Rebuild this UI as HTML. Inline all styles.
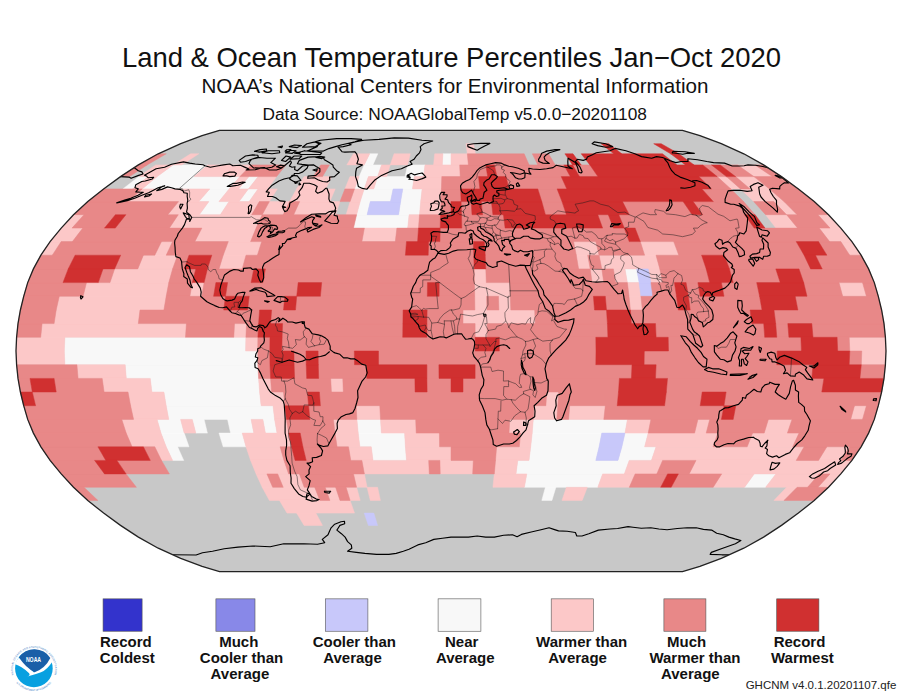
<!DOCTYPE html>
<html><head><meta charset="utf-8"><title>Land &amp; Ocean Temperature Percentiles Jan-Oct 2020</title>
<style>
html,body{margin:0;padding:0;background:#fff}
body{width:900px;height:696px;position:relative;overflow:hidden;font-family:"Liberation Sans",Arial,Helvetica,sans-serif;color:#111}
#ttl{position:absolute;left:0;top:0}
#ttl text{font-family:"Liberation Sans",Arial,Helvetica,sans-serif;fill:#111;text-anchor:middle}
</style></head><body>
<svg id="ttl" width="900" height="128" viewBox="0 0 900 128">
<text x="451.5" y="67.0" font-size="27.45">Land &amp; Ocean Temperature Percentiles Jan&#8722;Oct 2020</text>
<text x="455" y="93.0" font-size="20.64">NOAA&#8217;s National Centers for Environmental Information</text>
<text x="454.75" y="120.3" font-size="17.3">Data Source: NOAAGlobalTemp v5.0.0&#8722;20201108</text>
</svg>
<svg width="900" height="696" viewBox="0 0 900 696" style="position:absolute;left:0;top:0">
<defs><clipPath id="gl"><path d="M219.5,130.3L202.1,135.6L180.7,143.7L158.2,153.8L138.4,164.9L120.5,176.6L103.6,188.9L87.8,201.6L73.5,214.7L61.2,228.1L50.1,241.6L40.9,255.2L33.4,268.9L27.7,282.6L23.7,296.3L20.4,310.0L18.0,323.6L16.6,337.3L16.0,351.0L16.6,364.7L18.0,378.4L20.4,392.0L23.7,405.7L27.7,419.4L33.4,433.1L40.9,446.8L50.1,460.4L61.2,473.9L73.5,487.3L87.8,500.4L103.6,513.1L120.5,525.4L138.4,537.1L158.2,548.2L180.7,558.3L202.1,566.4L219.5,571.6L682.5,571.6L699.9,566.4L721.3,558.3L743.8,548.2L763.6,537.1L781.5,525.4L798.4,513.1L814.2,500.4L828.5,487.3L840.8,473.9L851.9,460.4L861.1,446.8L868.6,433.1L874.3,419.4L878.3,405.7L881.6,392.0L884.0,378.4L885.4,364.7L886.0,351.0L885.4,337.3L884.0,323.6L881.6,310.0L878.3,296.3L874.3,282.6L868.6,268.9L861.1,255.2L851.9,241.6L840.8,228.1L828.5,214.7L814.2,201.6L798.4,188.9L781.5,176.6L763.6,164.9L743.8,153.8L721.3,143.7L699.9,135.6L682.5,130.3Z"/></clipPath></defs>
<path d="M219.5,130.3L202.1,135.6L180.7,143.7L158.2,153.8L138.4,164.9L120.5,176.6L103.6,188.9L87.8,201.6L73.5,214.7L61.2,228.1L50.1,241.6L40.9,255.2L33.4,268.9L27.7,282.6L23.7,296.3L20.4,310.0L18.0,323.6L16.6,337.3L16.0,351.0L16.6,364.7L18.0,378.4L20.4,392.0L23.7,405.7L27.7,419.4L33.4,433.1L40.9,446.8L50.1,460.4L61.2,473.9L73.5,487.3L87.8,500.4L103.6,513.1L120.5,525.4L138.4,537.1L158.2,548.2L180.7,558.3L202.1,566.4L219.5,571.6L682.5,571.6L699.9,566.4L721.3,558.3L743.8,548.2L763.6,537.1L781.5,525.4L798.4,513.1L814.2,500.4L828.5,487.3L840.8,473.9L851.9,460.4L861.1,446.8L868.6,433.1L874.3,419.4L878.3,405.7L881.6,392.0L884.0,378.4L885.4,364.7L886.0,351.0L885.4,337.3L884.0,323.6L881.6,310.0L878.3,296.3L874.3,282.6L868.6,268.9L861.1,255.2L851.9,241.6L840.8,228.1L828.5,214.7L814.2,201.6L798.4,188.9L781.5,176.6L763.6,164.9L743.8,153.8L721.3,143.7L699.9,135.6L682.5,130.3Z" fill="#c8c8c8"/>
<g stroke-width="0.5" stroke-linejoin="miter">
<path fill="#f8f8f8" stroke="#f8f8f8" d="M369.7,153.8L377.8,153.8L372.9,164.9L364.2,164.9ZM442.9,153.8L451.0,153.8L451.0,164.9L442.3,164.9ZM173.1,164.9L207.9,164.9L194.0,176.6L157.2,176.6ZM364.2,164.9L381.5,164.9L377.6,176.6L359.2,176.6ZM407.6,164.9L425.0,164.9L423.5,176.6L405.1,176.6ZM138.9,176.6L148.1,176.6L132.6,188.9L122.9,188.9ZM157.2,176.6L239.9,176.6L229.1,188.9L142.2,188.9ZM249.0,176.6L258.2,176.6L248.4,188.9L238.7,188.9ZM359.2,176.6L368.4,176.6L364.2,188.9L354.5,188.9ZM377.6,176.6L414.3,176.6L412.4,188.9L373.8,188.9ZM209.8,188.9L229.1,188.9L218.9,201.6L198.8,201.6ZM248.4,188.9L258.0,188.9L249.2,201.6L239.1,201.6ZM364.2,188.9L393.1,188.9L390.5,201.6L360.2,201.6ZM402.8,188.9L422.1,188.9L420.7,201.6L400.6,201.6ZM208.9,201.6L229.0,201.6L220.3,214.7L199.3,214.7ZM360.2,201.6L370.3,201.6L367.1,214.7L356.6,214.7ZM400.6,201.6L420.7,201.6L419.5,214.7L398.6,214.7ZM356.6,214.7L409.1,214.7L407.7,228.1L353.5,228.1ZM625.0,268.9L636.6,268.9L639.1,282.6L627.4,282.6ZM64.9,337.3L245.9,337.3L245.6,351.0L64.3,351.0ZM64.3,351.0L257.7,351.0L257.9,364.7L64.9,364.7ZM125.2,364.7L257.9,364.7L258.6,378.4L126.3,378.4ZM150.3,378.4L258.6,378.4L259.6,392.0L151.9,392.0ZM163.9,392.0L259.6,392.0L261.1,405.7L166.2,405.7ZM166.2,405.7L273.0,405.7L274.6,419.4L168.8,419.4ZM157.1,419.4L180.6,419.4L184.2,433.1L161.0,433.1ZM192.3,419.4L204.1,419.4L207.4,433.1L195.8,433.1ZM227.6,419.4L251.1,419.4L253.8,433.1L230.6,433.1ZM262.9,419.4L274.6,419.4L277.0,433.1L265.4,433.1ZM356.9,419.4L380.5,419.4L381.4,433.1L358.2,433.1ZM533.3,419.4L627.4,419.4L625.0,433.1L532.2,433.1ZM161.0,433.1L184.2,433.1L189.0,446.8L166.2,446.8ZM219.0,433.1L242.2,433.1L246.0,446.8L223.2,446.8ZM358.2,433.1L404.6,433.1L405.4,446.8L359.9,446.8ZM532.2,433.1L601.8,433.1L599.1,446.8L530.7,446.8ZM625.0,433.1L648.2,433.1L644.6,446.8L621.9,446.8ZM166.2,446.8L177.6,446.8L183.7,460.4L172.6,460.4ZM371.3,446.8L405.4,446.8L406.5,460.4L373.0,460.4ZM530.7,446.8L599.1,446.8L595.8,460.4L529.0,460.4ZM621.9,446.8L656.0,446.8L651.4,460.4L618.0,460.4ZM517.8,460.4L629.2,460.4L624.3,473.9L516.0,473.9ZM526.8,473.9L602.6,473.9L597.8,487.3L524.4,487.3ZM754.2,473.9L775.9,473.9L765.6,487.3L744.6,487.3ZM545.4,487.3L555.9,487.3L551.9,500.4L541.8,500.4Z"/>
<path fill="#fcc8c8" stroke="#fcc8c8" d="M466.0,143.7L473.5,143.7L475.4,153.8L467.3,153.8ZM190.7,153.8L198.8,153.8L181.8,164.9L173.1,164.9ZM353.4,153.8L369.7,153.8L364.2,164.9L346.8,164.9ZM394.1,153.8L410.3,153.8L407.6,164.9L390.2,164.9ZM434.7,153.8L442.9,153.8L442.3,164.9L433.6,164.9ZM451.0,153.8L467.3,153.8L468.4,164.9L451.0,164.9ZM155.8,164.9L173.1,164.9L157.2,176.6L138.9,176.6ZM207.9,164.9L251.3,164.9L239.9,176.6L194.0,176.6ZM381.5,164.9L390.2,164.9L386.7,176.6L377.6,176.6ZM425.0,164.9L459.7,164.9L460.2,176.6L423.5,176.6ZM737.5,164.9L754.9,164.9L772.3,176.6L753.9,176.6ZM148.1,176.6L157.2,176.6L142.2,188.9L132.6,188.9ZM239.9,176.6L249.0,176.6L238.7,188.9L229.1,188.9ZM258.2,176.6L276.6,176.6L267.7,188.9L248.4,188.9ZM304.1,176.6L331.7,176.6L325.6,188.9L296.6,188.9ZM350.0,176.6L359.2,176.6L354.5,188.9L344.9,188.9ZM368.4,176.6L377.6,176.6L373.8,188.9L364.2,188.9ZM414.3,176.6L441.8,176.6L441.4,188.9L412.4,188.9ZM717.2,176.6L726.4,176.6L740.5,188.9L730.8,188.9ZM735.6,176.6L753.9,176.6L769.4,188.9L750.1,188.9ZM142.2,188.9L209.8,188.9L198.8,201.6L128.1,201.6ZM229.1,188.9L248.4,188.9L239.1,201.6L218.9,201.6ZM258.0,188.9L277.3,188.9L269.4,201.6L249.2,201.6ZM296.6,188.9L335.2,188.9L329.9,201.6L289.6,201.6ZM354.5,188.9L364.2,188.9L360.2,201.6L350.1,201.6ZM422.1,188.9L441.4,188.9L440.9,201.6L420.7,201.6ZM740.5,188.9L769.4,188.9L784.0,201.6L753.7,201.6ZM178.6,201.6L208.9,201.6L199.3,214.7L167.8,214.7ZM229.0,201.6L259.3,201.6L251.7,214.7L220.3,214.7ZM269.4,201.6L289.6,201.6L283.2,214.7L262.2,214.7ZM299.7,201.6L340.0,201.6L335.6,214.7L293.7,214.7ZM350.1,201.6L360.2,201.6L356.6,214.7L346.1,214.7ZM420.7,201.6L440.9,201.6L440.5,214.7L419.5,214.7ZM773.9,201.6L784.0,201.6L797.1,214.7L786.6,214.7ZM73.5,214.7L84.0,214.7L72.0,228.1L61.2,228.1ZM178.3,214.7L262.2,214.7L256.1,228.1L169.4,228.1ZM409.1,214.7L419.5,214.7L418.5,228.1L407.7,228.1ZM765.6,214.7L786.6,214.7L797.5,228.1L775.9,228.1ZM818.0,214.7L828.5,214.7L840.8,228.1L830.0,228.1ZM61.2,228.1L82.8,228.1L72.4,241.6L50.1,241.6ZM201.9,228.1L256.1,228.1L250.6,241.6L194.9,241.6ZM364.4,228.1L396.9,228.1L395.3,241.6L361.9,241.6ZM819.2,228.1L840.8,228.1L851.9,241.6L829.6,241.6ZM50.1,241.6L61.2,241.6L52.3,255.2L40.9,255.2ZM161.5,241.6L172.6,241.6L166.2,255.2L154.8,255.2ZM228.3,241.6L261.7,241.6L257.4,255.2L223.2,255.2ZM573.5,241.6L595.8,241.6L599.1,255.2L576.3,255.2ZM640.3,241.6L673.7,241.6L678.8,255.2L644.6,255.2ZM840.8,241.6L851.9,241.6L861.1,255.2L849.7,255.2ZM143.4,255.2L177.6,255.2L172.6,268.9L137.8,268.9ZM223.2,255.2L246.0,255.2L242.2,268.9L219.0,268.9ZM576.3,255.2L587.7,255.2L590.2,268.9L578.6,268.9ZM599.1,255.2L656.0,255.2L659.8,268.9L601.8,268.9ZM114.6,268.9L172.6,268.9L168.8,282.6L110.0,282.6ZM474.2,268.9L485.8,268.9L486.3,282.6L474.5,282.6ZM590.2,268.9L601.8,268.9L603.8,282.6L592.1,282.6ZM613.4,268.9L625.0,268.9L627.4,282.6L615.6,282.6ZM648.2,268.9L659.8,268.9L662.6,282.6L650.9,282.6ZM86.5,282.6L168.8,282.6L166.2,296.3L83.1,296.3ZM192.3,282.6L204.1,282.6L201.8,296.3L189.9,296.3ZM474.5,282.6L509.8,282.6L510.3,296.3L474.7,296.3ZM627.4,282.6L639.1,282.6L640.9,296.3L629.0,296.3ZM839.0,282.6L862.5,282.6L866.4,296.3L842.7,296.3ZM59.3,296.3L166.2,296.3L163.9,310.0L56.2,310.0ZM474.7,296.3L486.6,296.3L486.9,310.0L474.9,310.0ZM498.5,296.3L510.3,296.3L510.8,310.0L498.9,310.0ZM629.0,296.3L640.9,296.3L642.4,310.0L630.4,310.0ZM56.2,310.0L140.0,310.0L138.3,323.6L54.1,323.6ZM463.0,310.0L534.7,310.0L535.2,323.6L463.0,323.6ZM42.1,323.6L186.4,323.6L185.5,337.3L40.7,337.3ZM234.5,323.6L246.5,323.6L245.9,337.3L233.8,337.3ZM475.1,323.6L487.1,323.6L487.2,337.3L475.1,337.3ZM16.6,337.3L64.9,337.3L64.3,351.0L16.0,351.0ZM245.9,337.3L257.9,337.3L257.7,351.0L245.6,351.0ZM849.2,337.3L885.4,337.3L886.0,351.0L849.8,351.0ZM16.0,351.0L64.3,351.0L64.9,364.7L16.6,364.7ZM861.8,351.0L886.0,351.0L885.4,364.7L861.3,364.7ZM76.9,364.7L125.2,364.7L126.3,378.4L78.1,378.4ZM102.2,378.4L150.3,378.4L151.9,392.0L104.1,392.0ZM258.6,378.4L270.6,378.4L271.6,392.0L259.6,392.0ZM330.7,378.4L342.8,378.4L343.3,392.0L331.4,392.0ZM128.0,392.0L163.9,392.0L166.2,405.7L130.6,405.7ZM259.6,392.0L283.5,392.0L284.8,405.7L261.1,405.7ZM546.7,392.0L558.7,392.0L557.8,405.7L545.9,405.7ZM130.6,405.7L166.2,405.7L168.8,419.4L133.6,419.4ZM273.0,405.7L284.8,405.7L286.4,419.4L274.6,419.4ZM356.1,405.7L379.8,405.7L380.5,419.4L356.9,419.4ZM534.1,405.7L557.8,405.7L556.8,419.4L533.3,419.4ZM569.7,405.7L605.3,405.7L603.8,419.4L568.6,419.4ZM854.5,405.7L866.4,405.7L862.5,419.4L850.7,419.4ZM121.8,419.4L157.1,419.4L161.0,433.1L126.2,433.1ZM180.6,419.4L192.3,419.4L195.8,433.1L184.2,433.1ZM251.1,419.4L262.9,419.4L265.4,433.1L253.8,433.1ZM274.6,419.4L286.4,419.4L288.6,433.1L277.0,433.1ZM333.4,419.4L356.9,419.4L358.2,433.1L335.0,433.1ZM380.5,419.4L415.7,419.4L416.2,433.1L381.4,433.1ZM509.8,419.4L533.3,419.4L532.2,433.1L509.0,433.1ZM627.4,419.4L650.9,419.4L648.2,433.1L625.0,433.1ZM697.9,419.4L709.7,419.4L706.2,433.1L694.6,433.1ZM768.4,419.4L792.0,419.4L787.4,433.1L764.2,433.1ZM126.2,433.1L161.0,433.1L166.2,446.8L132.1,446.8ZM242.2,433.1L288.6,433.1L291.5,446.8L246.0,446.8ZM335.0,433.1L358.2,433.1L359.9,446.8L337.1,446.8ZM404.6,433.1L439.4,433.1L439.6,446.8L405.4,446.8ZM520.6,433.1L532.2,433.1L530.7,446.8L519.3,446.8ZM648.2,433.1L717.8,433.1L713.0,446.8L644.6,446.8ZM752.6,433.1L799.0,433.1L792.7,446.8L747.2,446.8ZM154.8,446.8L166.2,446.8L172.6,460.4L161.5,460.4ZM246.0,446.8L280.1,446.8L284.0,460.4L250.6,460.4ZM348.5,446.8L371.3,446.8L373.0,460.4L350.8,460.4ZM405.4,446.8L451.0,446.8L451.0,460.4L406.5,460.4ZM496.6,446.8L530.7,446.8L529.0,460.4L495.5,460.4ZM656.0,446.8L804.1,446.8L796.2,460.4L651.4,460.4ZM826.9,446.8L849.7,446.8L840.8,460.4L818.5,460.4ZM250.6,460.4L284.0,460.4L288.6,473.9L256.1,473.9ZM361.9,460.4L428.7,460.4L429.3,473.9L364.4,473.9ZM439.9,460.4L473.3,460.4L472.7,473.9L440.2,473.9ZM495.5,460.4L517.8,460.4L516.0,473.9L494.3,473.9ZM629.2,460.4L662.6,460.4L656.8,473.9L624.3,473.9ZM696.0,460.4L851.9,460.4L840.8,473.9L689.2,473.9ZM256.1,473.9L266.9,473.9L272.7,487.3L262.2,487.3ZM277.7,473.9L299.4,473.9L304.2,487.3L283.2,487.3ZM353.5,473.9L364.4,473.9L367.1,487.3L356.6,487.3ZM494.3,473.9L526.8,473.9L524.4,487.3L492.9,487.3ZM602.6,473.9L635.1,473.9L629.3,487.3L597.8,487.3ZM721.7,473.9L754.2,473.9L744.6,487.3L713.2,487.3ZM775.9,473.9L819.2,473.9L807.6,487.3L765.6,487.3ZM830.0,473.9L840.8,473.9L828.5,487.3L818.0,487.3ZM262.2,487.3L314.7,487.3L319.8,500.4L269.4,500.4ZM325.2,487.3L335.6,487.3L340.0,500.4L329.9,500.4ZM346.1,487.3L356.6,487.3L360.2,500.4L350.1,500.4ZM367.1,487.3L377.6,487.3L380.4,500.4L370.3,500.4ZM566.4,487.3L587.3,487.3L582.2,500.4L562.0,500.4ZM786.6,487.3L797.1,487.3L784.0,500.4L773.9,500.4ZM279.5,500.4L350.1,500.4L354.5,513.1L287.0,513.1ZM296.6,513.1L315.9,513.1L322.5,525.4L304.1,525.4Z"/>
<path fill="#c8c8fa" stroke="#c8c8fa" d="M393.1,188.9L402.8,188.9L400.6,201.6L390.5,201.6ZM370.3,201.6L400.6,201.6L398.6,214.7L367.1,214.7ZM636.6,268.9L648.2,268.9L650.9,282.6L639.1,282.6ZM639.1,282.6L650.9,282.6L652.8,296.3L640.9,296.3ZM601.8,433.1L625.0,433.1L621.9,446.8L599.1,446.8ZM599.1,446.8L621.9,446.8L618.0,460.4L595.8,460.4ZM364.2,513.1L373.8,513.1L377.6,525.4L368.4,525.4Z"/>
<path fill="#e88888" stroke="#e88888" d="M158.2,153.8L166.3,153.8L147.1,164.9L138.4,164.9ZM467.3,153.8L524.2,153.8L529.1,164.9L468.4,164.9ZM532.3,153.8L548.6,153.8L555.2,164.9L537.8,164.9ZM138.4,164.9L147.1,164.9L129.7,176.6L120.5,176.6ZM251.3,164.9L286.0,164.9L276.6,176.6L239.9,176.6ZM320.8,164.9L329.4,164.9L322.5,176.6L313.3,176.6ZM459.7,164.9L485.7,164.9L487.7,176.6L460.2,176.6ZM494.4,164.9L563.9,164.9L570.3,176.6L496.9,176.6ZM572.6,164.9L589.9,164.9L597.9,176.6L579.5,176.6ZM702.8,164.9L711.5,164.9L726.4,176.6L717.2,176.6ZM720.2,164.9L737.5,164.9L753.9,176.6L735.6,176.6ZM754.9,164.9L763.6,164.9L781.5,176.6L772.3,176.6ZM441.8,176.6L478.5,176.6L479.9,188.9L441.4,188.9ZM506.1,176.6L561.2,176.6L566.8,188.9L508.9,188.9ZM698.9,176.6L717.2,176.6L730.8,188.9L711.5,188.9ZM726.4,176.6L735.6,176.6L750.1,188.9L740.5,188.9ZM753.9,176.6L781.5,176.6L798.4,188.9L769.4,188.9ZM103.6,188.9L142.2,188.9L128.1,201.6L87.8,201.6ZM344.9,188.9L354.5,188.9L350.1,201.6L340.0,201.6ZM441.4,188.9L460.6,188.9L461.1,201.6L440.9,201.6ZM537.8,188.9L557.1,188.9L562.0,201.6L541.8,201.6ZM701.9,188.9L730.8,188.9L743.6,201.6L713.3,201.6ZM769.4,188.9L798.4,188.9L814.2,201.6L784.0,201.6ZM87.8,201.6L178.6,201.6L167.8,214.7L73.5,214.7ZM259.3,201.6L269.4,201.6L262.2,214.7L251.7,214.7ZM289.6,201.6L299.7,201.6L293.7,214.7L283.2,214.7ZM440.9,201.6L451.0,201.6L451.0,214.7L440.5,214.7ZM461.1,201.6L471.2,201.6L472.0,214.7L461.5,214.7ZM481.3,201.6L491.4,201.6L492.9,214.7L482.5,214.7ZM541.8,201.6L562.0,201.6L566.4,214.7L545.4,214.7ZM622.5,201.6L683.1,201.6L692.2,214.7L629.3,214.7ZM693.1,201.6L743.6,201.6L755.1,214.7L702.7,214.7ZM753.7,201.6L773.9,201.6L786.6,214.7L765.6,214.7ZM784.0,201.6L814.2,201.6L828.5,214.7L797.1,214.7ZM84.0,214.7L115.4,214.7L104.5,228.1L72.0,228.1ZM125.9,214.7L178.3,214.7L169.4,228.1L115.3,228.1ZM262.2,214.7L356.6,214.7L353.5,228.1L256.1,228.1ZM419.5,214.7L440.5,214.7L440.2,228.1L418.5,228.1ZM461.5,214.7L503.4,214.7L505.1,228.1L461.8,228.1ZM597.8,214.7L608.3,214.7L613.4,228.1L602.6,228.1ZM618.8,214.7L744.6,214.7L754.2,228.1L624.3,228.1ZM786.6,214.7L818.0,214.7L830.0,228.1L797.5,228.1ZM82.8,228.1L201.9,228.1L194.9,241.6L72.4,241.6ZM256.1,228.1L364.4,228.1L361.9,241.6L250.6,241.6ZM396.9,228.1L418.5,228.1L417.6,241.6L395.3,241.6ZM440.2,228.1L624.3,228.1L629.2,241.6L439.9,241.6ZM635.1,228.1L819.2,228.1L829.6,241.6L640.3,241.6ZM61.2,241.6L161.5,241.6L154.8,255.2L52.3,255.2ZM172.6,241.6L228.3,241.6L223.2,255.2L166.2,255.2ZM261.7,241.6L406.5,241.6L405.4,255.2L257.4,255.2ZM428.7,241.6L473.3,241.6L473.8,255.2L428.2,255.2ZM484.4,241.6L573.5,241.6L576.3,255.2L485.2,255.2ZM595.8,241.6L640.3,241.6L644.6,255.2L599.1,255.2ZM673.7,241.6L796.2,241.6L804.1,255.2L678.8,255.2ZM818.5,241.6L840.8,241.6L849.7,255.2L826.9,255.2ZM40.9,255.2L75.1,255.2L68.2,268.9L33.4,268.9ZM120.7,255.2L143.4,255.2L137.8,268.9L114.6,268.9ZM177.6,255.2L189.0,255.2L184.2,268.9L172.6,268.9ZM211.8,255.2L223.2,255.2L219.0,268.9L207.4,268.9ZM246.0,255.2L473.8,255.2L474.2,268.9L242.2,268.9ZM485.2,255.2L576.3,255.2L578.6,268.9L485.8,268.9ZM587.7,255.2L599.1,255.2L601.8,268.9L590.2,268.9ZM656.0,255.2L701.6,255.2L706.2,268.9L659.8,268.9ZM724.4,255.2L804.1,255.2L810.6,268.9L729.4,268.9ZM815.5,255.2L861.1,255.2L868.6,268.9L822.2,268.9ZM33.4,268.9L68.2,268.9L63.0,282.6L27.7,282.6ZM103.0,268.9L114.6,268.9L110.0,282.6L98.3,282.6ZM172.6,268.9L195.8,268.9L192.3,282.6L168.8,282.6ZM207.4,268.9L253.8,268.9L251.1,282.6L204.1,282.6ZM265.4,268.9L474.2,268.9L474.5,282.6L262.9,282.6ZM485.8,268.9L590.2,268.9L592.1,282.6L486.3,282.6ZM601.8,268.9L613.4,268.9L615.6,282.6L603.8,282.6ZM659.8,268.9L706.2,268.9L709.7,282.6L662.6,282.6ZM729.4,268.9L775.8,268.9L780.2,282.6L733.2,282.6ZM799.0,268.9L868.6,268.9L874.3,282.6L803.7,282.6ZM27.7,282.6L86.5,282.6L83.1,296.3L23.7,296.3ZM168.8,282.6L192.3,282.6L189.9,296.3L166.2,296.3ZM204.1,282.6L215.9,282.6L213.6,296.3L201.8,296.3ZM227.6,282.6L298.2,282.6L296.7,296.3L225.5,296.3ZM321.7,282.6L427.5,282.6L427.3,296.3L320.4,296.3ZM439.2,282.6L474.5,282.6L474.7,296.3L439.1,296.3ZM509.8,282.6L627.4,282.6L629.0,296.3L510.3,296.3ZM650.9,282.6L674.4,282.6L676.5,296.3L652.8,296.3ZM686.1,282.6L697.9,282.6L700.2,296.3L688.4,296.3ZM721.4,282.6L756.7,282.6L759.6,296.3L724.0,296.3ZM803.7,282.6L839.0,282.6L842.7,296.3L807.0,296.3ZM862.5,282.6L874.3,282.6L878.3,296.3L866.4,296.3ZM23.7,296.3L59.3,296.3L56.2,310.0L20.4,310.0ZM166.2,296.3L225.5,296.3L223.7,310.0L163.9,310.0ZM249.2,296.3L284.8,296.3L283.5,310.0L247.6,310.0ZM296.7,296.3L474.7,296.3L474.9,310.0L295.5,310.0ZM486.6,296.3L498.5,296.3L498.9,310.0L486.9,310.0ZM510.3,296.3L593.4,296.3L594.5,310.0L510.8,310.0ZM605.3,296.3L629.0,296.3L630.4,310.0L606.5,310.0ZM640.9,296.3L676.5,296.3L678.3,310.0L642.4,310.0ZM688.4,296.3L759.6,296.3L762.0,310.0L690.2,310.0ZM795.2,296.3L878.3,296.3L881.6,310.0L797.9,310.0ZM20.4,310.0L56.2,310.0L54.1,323.6L18.0,323.6ZM140.0,310.0L259.6,310.0L258.6,323.6L138.3,323.6ZM271.6,310.0L403.1,310.0L402.9,323.6L270.6,323.6ZM427.1,310.0L463.0,310.0L463.0,323.6L426.9,323.6ZM534.7,310.0L606.5,310.0L607.4,323.6L535.2,323.6ZM630.4,310.0L750.1,310.0L751.7,323.6L631.4,323.6ZM774.0,310.0L881.6,310.0L884.0,323.6L775.7,323.6ZM18.0,323.6L42.1,323.6L40.7,337.3L16.6,337.3ZM186.4,323.6L234.5,323.6L233.8,337.3L185.5,337.3ZM246.5,323.6L258.6,323.6L257.9,337.3L245.9,337.3ZM282.6,323.6L402.9,323.6L402.7,337.3L282.1,337.3ZM426.9,323.6L475.1,323.6L475.1,337.3L426.9,337.3ZM487.1,323.6L607.4,323.6L607.9,337.3L487.2,337.3ZM655.5,323.6L763.7,323.6L764.7,337.3L656.1,337.3ZM775.7,323.6L787.8,323.6L788.9,337.3L776.8,337.3ZM811.8,323.6L884.0,323.6L885.4,337.3L813.0,337.3ZM257.9,337.3L270.0,337.3L269.8,351.0L257.7,351.0ZM282.1,337.3L475.1,337.3L475.2,351.0L281.8,351.0ZM499.3,337.3L595.8,337.3L596.0,351.0L499.3,351.0ZM668.2,337.3L800.9,337.3L801.4,351.0L668.5,351.0ZM837.1,337.3L849.2,337.3L849.8,351.0L837.7,351.0ZM257.7,351.0L269.8,351.0L270.0,364.7L257.9,364.7ZM293.9,351.0L306.0,351.0L306.2,364.7L294.1,364.7ZM318.1,351.0L354.3,351.0L354.5,364.7L318.3,364.7ZM378.5,351.0L596.0,351.0L595.8,364.7L378.6,364.7ZM644.3,351.0L777.2,351.0L776.8,364.7L644.1,364.7ZM849.8,351.0L861.8,351.0L861.3,364.7L849.2,364.7ZM16.6,364.7L76.9,364.7L78.1,378.4L18.0,378.4ZM257.9,364.7L270.0,364.7L270.6,378.4L258.6,378.4ZM294.1,364.7L306.2,364.7L306.7,378.4L294.6,378.4ZM318.3,364.7L366.5,364.7L366.8,378.4L318.7,378.4ZM426.9,364.7L438.9,364.7L439.0,378.4L426.9,378.4ZM475.1,364.7L632.0,364.7L631.4,378.4L475.1,378.4ZM656.1,364.7L813.0,364.7L811.8,378.4L655.5,378.4ZM861.3,364.7L885.4,364.7L884.0,378.4L859.9,378.4ZM18.0,378.4L30.0,378.4L32.3,392.0L20.4,392.0ZM54.1,378.4L102.2,378.4L104.1,392.0L56.2,392.0ZM270.6,378.4L330.7,378.4L331.4,392.0L271.6,392.0ZM342.8,378.4L414.9,378.4L415.1,392.0L343.3,392.0ZM426.9,378.4L451.0,378.4L451.0,392.0L427.1,392.0ZM463.0,378.4L619.4,378.4L618.5,392.0L463.0,392.0ZM667.5,378.4L823.9,378.4L821.8,392.0L666.3,392.0ZM32.3,392.0L128.0,392.0L130.6,405.7L35.6,405.7ZM283.5,392.0L307.4,392.0L308.6,405.7L284.8,405.7ZM319.4,392.0L546.7,392.0L545.9,405.7L320.4,405.7ZM558.7,392.0L618.5,392.0L617.2,405.7L557.8,405.7ZM666.3,392.0L702.2,392.0L700.2,405.7L664.6,405.7ZM726.1,392.0L881.6,392.0L878.3,405.7L724.0,405.7ZM23.7,405.7L130.6,405.7L133.6,419.4L27.7,419.4ZM308.6,405.7L356.1,405.7L356.9,419.4L309.9,419.4ZM379.8,405.7L534.1,405.7L533.3,419.4L380.5,419.4ZM557.8,405.7L569.7,405.7L568.6,419.4L556.8,419.4ZM605.3,405.7L724.0,405.7L721.4,419.4L603.8,419.4ZM735.8,405.7L854.5,405.7L850.7,419.4L733.2,419.4ZM866.4,405.7L878.3,405.7L874.3,419.4L862.5,419.4ZM27.7,419.4L121.8,419.4L126.2,433.1L33.4,433.1ZM286.4,419.4L333.4,419.4L335.0,433.1L288.6,433.1ZM415.7,419.4L509.8,419.4L509.0,433.1L416.2,433.1ZM650.9,419.4L697.9,419.4L694.6,433.1L648.2,433.1ZM709.7,419.4L768.4,419.4L764.2,433.1L706.2,433.1ZM792.0,419.4L874.3,419.4L868.6,433.1L787.4,433.1ZM33.4,433.1L126.2,433.1L132.1,446.8L40.9,446.8ZM300.2,433.1L335.0,433.1L337.1,446.8L302.9,446.8ZM439.4,433.1L520.6,433.1L519.3,446.8L439.6,446.8ZM717.8,433.1L752.6,433.1L747.2,446.8L713.0,446.8ZM799.0,433.1L868.6,433.1L861.1,446.8L792.7,446.8ZM40.9,446.8L97.9,446.8L105.8,460.4L50.1,460.4ZM143.4,446.8L154.8,446.8L161.5,460.4L150.3,460.4ZM280.1,446.8L291.5,446.8L295.1,460.4L284.0,460.4ZM302.9,446.8L348.5,446.8L350.8,460.4L306.2,460.4ZM451.0,446.8L496.6,446.8L495.5,460.4L451.0,460.4ZM804.1,446.8L826.9,446.8L818.5,460.4L796.2,460.4ZM849.7,446.8L861.1,446.8L851.9,460.4L840.8,460.4ZM50.1,460.4L94.6,460.4L104.5,473.9L61.2,473.9ZM116.9,460.4L161.5,460.4L169.4,473.9L126.1,473.9ZM284.0,460.4L361.9,460.4L364.4,473.9L288.6,473.9ZM428.7,460.4L439.9,460.4L440.2,473.9L429.3,473.9ZM473.3,460.4L495.5,460.4L494.3,473.9L472.7,473.9ZM662.6,460.4L696.0,460.4L689.2,473.9L656.8,473.9ZM61.2,473.9L126.1,473.9L136.4,487.3L73.5,487.3ZM266.9,473.9L277.7,473.9L283.2,487.3L272.7,487.3ZM299.4,473.9L353.5,473.9L356.6,487.3L304.2,487.3ZM635.1,473.9L667.6,473.9L660.7,487.3L629.3,487.3ZM678.4,473.9L721.7,473.9L713.2,487.3L671.2,487.3ZM819.2,473.9L830.0,473.9L818.0,487.3L807.6,487.3ZM73.5,487.3L84.0,487.3L97.9,500.4L87.8,500.4ZM314.7,487.3L325.2,487.3L329.9,500.4L319.8,500.4ZM335.6,487.3L346.1,487.3L350.1,500.4L340.0,500.4ZM797.1,487.3L828.5,487.3L814.2,500.4L784.0,500.4Z"/>
<path fill="#d03030" stroke="#d03030" d="M601.1,143.7L608.7,143.7L621.8,153.8L613.7,153.8ZM653.7,143.7L661.2,143.7L678.8,153.8L670.6,153.8ZM564.9,153.8L573.0,153.8L581.2,164.9L572.6,164.9ZM581.2,153.8L662.5,153.8L676.8,164.9L589.9,164.9ZM670.6,153.8L678.8,153.8L694.1,164.9L685.4,164.9ZM485.7,164.9L494.4,164.9L496.9,176.6L487.7,176.6ZM563.9,164.9L572.6,164.9L579.5,176.6L570.3,176.6ZM589.9,164.9L702.8,164.9L717.2,176.6L597.9,176.6ZM711.5,164.9L720.2,164.9L735.6,176.6L726.4,176.6ZM478.5,176.6L506.1,176.6L508.9,188.9L479.9,188.9ZM561.2,176.6L698.9,176.6L711.5,188.9L566.8,188.9ZM460.6,188.9L537.8,188.9L541.8,201.6L461.1,201.6ZM557.1,188.9L701.9,188.9L713.3,201.6L562.0,201.6ZM451.0,201.6L461.1,201.6L461.5,214.7L451.0,214.7ZM471.2,201.6L481.3,201.6L482.5,214.7L472.0,214.7ZM491.4,201.6L541.8,201.6L545.4,214.7L492.9,214.7ZM562.0,201.6L622.5,201.6L629.3,214.7L566.4,214.7ZM683.1,201.6L693.1,201.6L702.7,214.7L692.2,214.7ZM115.4,214.7L125.9,214.7L115.3,228.1L104.5,228.1ZM440.5,214.7L461.5,214.7L461.8,228.1L440.2,228.1ZM503.4,214.7L597.8,214.7L602.6,228.1L505.1,228.1ZM608.3,214.7L618.8,214.7L624.3,228.1L613.4,228.1ZM744.6,214.7L755.1,214.7L765.0,228.1L754.2,228.1ZM418.5,228.1L440.2,228.1L439.9,241.6L417.6,241.6ZM624.3,228.1L635.1,228.1L640.3,241.6L629.2,241.6ZM406.5,241.6L428.7,241.6L428.2,255.2L405.4,255.2ZM473.3,241.6L484.4,241.6L485.2,255.2L473.8,255.2ZM796.2,241.6L818.5,241.6L826.9,255.2L804.1,255.2ZM75.1,255.2L120.7,255.2L114.6,268.9L68.2,268.9ZM189.0,255.2L211.8,255.2L207.4,268.9L184.2,268.9ZM473.8,255.2L485.2,255.2L485.8,268.9L474.2,268.9ZM701.6,255.2L724.4,255.2L729.4,268.9L706.2,268.9ZM804.1,255.2L815.5,255.2L822.2,268.9L810.6,268.9ZM68.2,268.9L103.0,268.9L98.3,282.6L63.0,282.6ZM195.8,268.9L207.4,268.9L204.1,282.6L192.3,282.6ZM253.8,268.9L265.4,268.9L262.9,282.6L251.1,282.6ZM706.2,268.9L729.4,268.9L733.2,282.6L709.7,282.6ZM775.8,268.9L799.0,268.9L803.7,282.6L780.2,282.6ZM215.9,282.6L227.6,282.6L225.5,296.3L213.6,296.3ZM298.2,282.6L321.7,282.6L320.4,296.3L296.7,296.3ZM427.5,282.6L439.2,282.6L439.1,296.3L427.3,296.3ZM674.4,282.6L686.1,282.6L688.4,296.3L676.5,296.3ZM697.9,282.6L721.4,282.6L724.0,296.3L700.2,296.3ZM756.7,282.6L803.7,282.6L807.0,296.3L759.6,296.3ZM225.5,296.3L249.2,296.3L247.6,310.0L223.7,310.0ZM284.8,296.3L296.7,296.3L295.5,310.0L283.5,310.0ZM593.4,296.3L605.3,296.3L606.5,310.0L594.5,310.0ZM676.5,296.3L688.4,296.3L690.2,310.0L678.3,310.0ZM759.6,296.3L795.2,296.3L797.9,310.0L762.0,310.0ZM259.6,310.0L271.6,310.0L270.6,323.6L258.6,323.6ZM403.1,310.0L427.1,310.0L426.9,323.6L402.9,323.6ZM606.5,310.0L630.4,310.0L631.4,323.6L607.4,323.6ZM750.1,310.0L774.0,310.0L775.7,323.6L751.7,323.6ZM258.6,323.6L282.6,323.6L282.1,337.3L257.9,337.3ZM402.9,323.6L426.9,323.6L426.9,337.3L402.7,337.3ZM607.4,323.6L655.5,323.6L656.1,337.3L607.9,337.3ZM763.7,323.6L775.7,323.6L776.8,337.3L764.7,337.3ZM787.8,323.6L811.8,323.6L813.0,337.3L788.9,337.3ZM270.0,337.3L282.1,337.3L281.8,351.0L269.8,351.0ZM475.1,337.3L499.3,337.3L499.3,351.0L475.2,351.0ZM595.8,337.3L668.2,337.3L668.5,351.0L596.0,351.0ZM800.9,337.3L837.1,337.3L837.7,351.0L801.4,351.0ZM269.8,351.0L293.9,351.0L294.1,364.7L270.0,364.7ZM306.0,351.0L318.1,351.0L318.3,364.7L306.2,364.7ZM354.3,351.0L378.5,351.0L378.6,364.7L354.5,364.7ZM596.0,351.0L644.3,351.0L644.1,364.7L595.8,364.7ZM777.2,351.0L849.8,351.0L849.2,364.7L776.8,364.7ZM270.0,364.7L294.1,364.7L294.6,378.4L270.6,378.4ZM306.2,364.7L318.3,364.7L318.7,378.4L306.7,378.4ZM366.5,364.7L426.9,364.7L426.9,378.4L366.8,378.4ZM438.9,364.7L475.1,364.7L475.1,378.4L439.0,378.4ZM632.0,364.7L656.1,364.7L655.5,378.4L631.4,378.4ZM813.0,364.7L861.3,364.7L859.9,378.4L811.8,378.4ZM30.0,378.4L54.1,378.4L56.2,392.0L32.3,392.0ZM414.9,378.4L426.9,378.4L427.1,392.0L415.1,392.0ZM451.0,378.4L463.0,378.4L463.0,392.0L451.0,392.0ZM619.4,378.4L667.5,378.4L666.3,392.0L618.5,392.0ZM823.9,378.4L884.0,378.4L881.6,392.0L821.8,392.0ZM20.4,392.0L32.3,392.0L35.6,405.7L23.7,405.7ZM307.4,392.0L319.4,392.0L320.4,405.7L308.6,405.7ZM618.5,392.0L666.3,392.0L664.6,405.7L617.2,405.7ZM702.2,392.0L726.1,392.0L724.0,405.7L700.2,405.7ZM284.8,405.7L308.6,405.7L309.9,419.4L286.4,419.4ZM724.0,405.7L735.8,405.7L733.2,419.4L721.4,419.4ZM288.6,433.1L300.2,433.1L302.9,446.8L291.5,446.8ZM97.9,446.8L143.4,446.8L150.3,460.4L105.8,460.4ZM291.5,446.8L302.9,446.8L306.2,460.4L295.1,460.4ZM94.6,460.4L116.9,460.4L126.1,473.9L104.5,473.9ZM667.6,473.9L678.4,473.9L671.2,487.3L660.7,487.3Z"/>
</g>
<g clip-path="url(#gl)" fill="none" stroke-linejoin="round" stroke-linecap="round">
<path d="M205.0,165.8L179.7,188.2L182.7,188.9L183.1,191.4L188.8,189.7L189.7,192.7L189.5,197.3L190.9,199.1L188.7,201.6M191.2,217.4L249.9,217.4L251.2,216.6L254.1,218.4L256.6,219.8L260.7,220.0L264.2,219.5L267.6,221.4L269.3,223.2L269.6,224.0L271.2,225.4L270.7,226.7L272.6,227.3L271.9,230.8L270.4,233.5L269.8,234.6L268.0,235.9L268.9,237.0L272.7,235.6L277.7,234.0L278.2,232.7L279.6,231.8L283.3,231.8L285.0,230.2L288.6,228.1L296.1,228.1L298.0,227.0L300.2,224.6L301.0,223.5L303.3,221.6L305.4,221.9L305.5,224.0L304.8,226.2L305.2,227.5L305.8,228.3M181.6,262.1L187.4,261.5L186.9,262.1L194.6,265.4L201.1,265.4L201.5,264.0L205.4,264.0L208.0,267.0L208.3,269.7L210.8,271.7L213.0,269.5L215.6,269.5L216.8,273.0L218.5,275.8L219.0,278.8L222.9,280.1M230.3,311.3L231.0,309.4L231.9,307.2L234.8,306.9L234.0,303.9L234.2,302.3L238.5,302.3L237.9,307.5L238.6,307.5M238.5,302.3L240.9,300.4M237.4,311.6L240.2,308.0M235.1,313.5L237.2,311.6L239.0,312.7L240.8,314.1L240.5,314.9M241.6,315.4L243.2,313.2L246.2,312.1L248.8,310.8L251.9,310.0M245.0,320.6L247.4,320.9L249.8,321.2M251.3,328.8L252.0,325.0M280.7,297.1L280.2,301.8M264.8,327.5L263.2,331.3M279.8,318.7L276.8,320.9L275.3,325.0L276.9,327.7L277.5,331.0L282.2,331.8L288.2,334.0L287.3,338.7L288.5,342.0L289.1,347.7M289.1,347.7L282.4,346.3L283.1,349.6L281.8,351.5L283.1,355.1L282.0,362.5M260.6,346.9L263.7,349.1L268.5,351.0M268.5,351.0L272.2,353.7L274.7,357.3L281.9,358.4L282.0,362.5M257.1,360.3L257.9,363.0L260.4,364.7L261.9,360.6L267.4,357.8L268.5,351.0M282.0,362.5L274.8,364.7L273.1,371.0L275.8,377.0L281.3,377.0L281.6,381.1L284.0,381.1M284.0,381.1L285.4,385.2L285.9,392.0L285.1,396.1L285.3,398.9M283.4,401.1L285.3,398.9M284.0,381.1L287.6,381.1L293.9,377.8L294.9,383.8L302.4,387.9L306.0,388.8L307.7,395.3L311.8,395.6L312.8,398.9L313.8,403.0M285.3,398.9L288.3,404.4L289.5,409.3L292.3,413.4M292.3,413.4L295.6,411.2L299.1,413.4L302.7,411.7M302.7,411.7L304.2,404.9L312.8,405.2L313.8,403.0M313.8,403.0L313.8,411.2L319.1,412.0L320.2,416.7L323.0,416.7L322.8,421.0M302.7,411.7L307.2,415.8L313.0,419.4L315.6,420.2L313.9,425.4L320.1,425.7L322.8,421.0M322.8,421.0L325.1,424.9L320.9,428.4L317.5,433.6M317.5,433.6L321.4,435.3L326.5,438.0L328.7,443.2M317.5,433.6L317.1,439.9L317.4,444.0M292.3,413.4L289.8,418.0L290.7,424.9L288.6,430.3L288.7,437.2L290.5,442.1L291.1,449.5L291.7,456.3L292.1,463.1L294.6,471.2L297.1,476.6L297.9,484.6L300.4,489.9L306.3,492.5L309.9,493.3M310.0,494.4L312.5,500.1M306.5,327.7L303.2,331.8L303.8,336.0L304.5,336.8M304.5,336.8L300.1,340.1L295.3,339.5L296.4,344.7L292.7,348.3L289.1,347.7M304.5,336.8L306.7,338.7L306.1,344.2L308.4,347.4L314.5,345.8M313.0,334.6L312.2,338.7L310.9,341.4L314.5,345.8M320.7,335.1L319.4,338.7L320.6,341.4L319.1,344.7M314.5,345.8L319.1,344.7L324.2,344.2L326.2,340.1M446.0,255.0L447.1,259.3L448.2,262.9L442.9,266.2L439.4,268.9L430.7,272.5L430.7,275.2M430.7,275.2L420.2,275.2M430.7,275.2L430.6,279.9L422.8,279.9L422.7,286.7L420.3,288.1L420.2,292.7L410.7,292.7M430.7,276.3L439.7,282.6L453.8,293.3L458.6,296.8L461.2,298.5M461.2,298.5L465.2,296.8L468.8,294.1L479.3,286.7M479.3,286.7L474.5,284.0L473.3,279.0L474.1,274.4L473.0,268.4M473.0,268.4L469.9,262.1L468.2,258.5L469.9,255.2L470.4,250.0M473.0,268.4L474.8,264.3L477.5,262.1L477.4,260.2M439.7,282.6L435.7,282.6L437.9,305.9L438.3,308.6L428.8,308.6L425.2,309.1L423.5,308.3L421.8,310.5M411.6,307.2L416.4,305.6L419.2,307.8L421.8,310.5M421.8,310.5L423.6,317.1M410.9,317.1L418.1,316.5L423.6,317.1M410.7,313.8L415.1,313.2L417.9,314.3L415.0,314.9L410.7,314.9M414.9,320.9L418.1,319.0L418.1,316.5M423.6,317.1L428.7,317.3L431.8,323.1L431.0,330.2M419.0,326.4L425.3,325.0L426.2,327.7L423.3,332.1M426.2,327.7L428.6,330.8L431.0,330.2L432.9,339.0M444.2,337.0L443.3,331.8L444.5,325.0L444.3,320.9M431.8,323.1L437.8,322.5L440.2,318.2L443.8,314.1L449.8,310.0L451.5,310.0M437.8,322.5L444.3,324.2M451.5,310.0L453.4,314.1L456.3,316.8L456.8,319.0M444.3,320.9L451.0,320.9L453.4,320.9L456.8,319.0M453.9,334.3L452.2,327.7L451.0,320.9M455.1,334.0L454.6,326.4L453.4,320.9M457.5,333.8L457.7,326.4L459.6,319.0M456.8,319.0L459.6,319.0M461.2,298.5L461.0,305.0L459.4,308.6L453.4,310.0L451.5,310.0M459.6,319.0L460.6,314.1L467.8,315.4L472.6,316.0L477.4,314.6L483.4,313.5M483.4,313.5L488.0,305.0L487.8,294.9L486.4,288.1M479.3,286.7L486.4,288.1M486.4,288.1L508.0,297.6M508.0,297.6L508.0,296.3L510.3,296.3L510.1,290.8M510.1,290.8L508.7,264.5M510.1,290.8L538.3,290.8M508.0,297.6L508.4,308.0L504.9,312.7L505.0,316.8L505.8,320.9L507.5,323.6L508.8,327.2M483.4,313.5L484.6,316.8L486.5,316.8L487.1,323.6L484.7,323.6L488.4,330.5M488.4,330.5L495.6,329.1L496.7,326.4L501.5,325.0L505.8,320.9M471.5,338.1L473.9,333.2L478.7,331.8L482.3,325.0L484.6,316.8M488.4,330.5L486.0,334.6L486.0,338.7L489.7,345.0L490.1,346.3M474.7,344.7L478.3,345.0L483.1,345.0L489.7,345.0M474.7,348.3L478.3,348.3L478.3,345.0M483.1,345.0L486.0,348.3L484.8,352.4L486.0,356.5L481.2,357.3L478.8,359.2L478.0,361.7M490.1,346.3L494.5,341.4L495.9,341.4M495.9,341.4L495.9,338.7L499.3,338.1L505.3,339.8L511.3,337.3L517.1,337.0M495.9,341.4L494.0,349.6L490.9,355.9L489.6,360.6L487.2,363.3L482.4,363.9L480.4,366.6M480.4,367.1L482.4,367.1L490.8,367.1L492.0,371.5L498.0,370.2L503.5,371.0L503.4,381.1L508.7,380.8L508.4,384.4M508.6,384.7L508.6,386.6L503.8,386.6L503.5,395.3L506.8,399.2M479.1,398.3L484.4,398.6L495.1,398.6L502.2,400.2L506.8,399.2L511.3,399.7M501.0,401.1L500.7,411.2L498.3,411.2L498.0,418.9L497.6,428.7M489.4,429.3L491.7,429.8L497.6,428.7M498.0,418.9L502.5,423.5L505.0,420.2L510.9,421.3L514.7,415.8L520.5,411.7M520.5,411.7L516.2,407.1L512.8,403.0L511.3,399.7M511.3,399.7L515.3,400.2L519.8,396.1L523.7,393.7M523.7,393.7L529.8,396.7L529.0,403.0L528.0,409.3L525.0,412.3M520.5,411.7L525.0,412.3M525.0,412.3L526.3,418.0L525.9,424.3L528.0,424.6M513.7,432.0L517.4,429.5L519.3,431.7L517.0,434.7L514.3,434.2L513.7,432.0M523.7,422.1L526.0,423.0L525.8,425.4L523.5,425.4L523.7,422.1M508.7,381.1L512.3,382.5L515.8,383.8L519.3,387.4L521.7,387.4L520.6,384.7L519.2,383.3L519.8,377.0L520.6,374.3L525.2,373.4M525.2,373.4L530.2,376.7L530.8,380.5L531.0,381.1L529.4,388.2L530.5,389.3M523.7,393.7L523.3,391.5L530.5,389.3M534.4,382.5L541.1,383.0L548.1,379.7M534.8,382.5L536.9,391.5L535.2,397.5L532.9,394.8L533.6,390.7L530.5,389.3M530.2,376.7L532.8,377.0M545.6,363.9L541.8,359.2L533.2,353.7M533.2,353.7L524.7,353.7L525.4,357.6L524.6,360.6L522.0,363.0M524.7,353.7L522.5,354.8L521.0,358.4L524.7,357.6M521.0,358.4L521.5,363.0M533.2,353.7L533.2,350.5L535.6,346.1L533.1,339.5M522.5,354.8L523.0,351.0L525.9,345.0L525.4,341.4M508.8,327.2L511.1,322.8L517.9,324.7L522.0,323.6L525.6,324.2L528.6,319.0L530.7,317.6L530.3,322.3L532.8,325.0M508.8,327.2L517.1,337.0L522.2,339.0L525.4,341.4M525.4,341.4L528.3,341.2L533.1,339.5L537.7,338.4M532.8,325.0L530.5,329.7L535.4,336.0L537.7,338.4M532.8,325.0L533.9,321.5L535.0,317.3L537.8,314.1L538.3,310.0L539.3,304.5L542.9,301.8M538.4,311.9L542.0,310.8L546.8,311.3L552.8,316.8M552.8,316.8L551.5,320.9L554.3,319.5M553.9,321.2L556.9,326.4L564.2,329.1L566.6,329.1L559.6,337.3L552.4,339.5L552.2,340.3M537.7,338.4L542.8,341.2L547.1,340.6L552.2,340.3M552.2,340.3L550.0,343.3L550.1,351.0L551.5,355.7M431.6,236.4L432.9,236.2L436.7,236.4L435.7,238.9L435.4,242.4L434.3,242.7L435.3,246.5L434.3,249.2M447.1,232.4L452.5,234.3L458.0,235.1M467.4,231.3L466.2,230.0L466.1,226.7L465.6,225.7M465.6,225.7L464.1,224.9L465.9,221.4L467.2,221.1M467.2,221.1L468.3,217.4L464.5,216.1M464.5,216.1L461.1,214.7L459.8,214.7L456.4,211.8M458.1,211.0L461.4,211.0L463.1,211.6L463.5,212.6M463.5,212.6L463.8,210.0L465.4,208.9L465.7,206.1M463.5,212.6L464.5,216.1M468.6,201.9L471.0,202.2M480.1,204.5L480.0,207.4L481.4,209.5L482.2,212.1M482.2,212.1L476.7,213.9L480.2,217.9M480.2,217.9L478.7,221.4L473.4,221.4L471.5,221.4M471.5,221.4L467.2,221.1M465.6,225.7L469.3,224.9L471.0,224.3L473.3,223.8M471.5,221.4L471.5,222.4L473.3,223.2M473.3,223.2L477.1,222.7L480.4,224.0M480.4,224.0L480.6,226.5M480.2,217.9L482.7,217.4L487.0,218.2M487.1,220.0L486.3,222.7L485.3,223.2M480.4,224.0L485.3,223.2M482.2,212.1L485.0,213.1L486.6,213.9L490.6,216.1M490.6,216.1L493.2,216.8L498.5,217.1M487.0,218.2L489.0,217.4L490.6,216.1M487.0,218.2L487.1,220.0L491.0,220.6L494.4,218.7L498.1,219.0M490.7,203.2L497.2,203.2M497.2,203.2L498.8,204.2L500.1,207.6L500.0,210.8M500.0,210.8L501.2,213.4L498.9,216.8L498.5,217.1L498.1,219.0M493.0,198.8L500.9,198.3L504.4,199.8M498.8,194.2L504.9,195.2M505.5,190.4L505.1,194.0L505.8,195.7L507.3,198.6L504.4,199.8L504.9,200.9L503.2,203.5L498.8,204.2M493.7,201.1L497.0,201.6L497.2,203.2M507.3,198.6L513.0,200.1L514.1,204.2L517.9,205.8L516.7,209.2M500.0,210.8L507.0,210.5L514.4,211.3L516.7,209.2M516.7,209.2L521.1,208.7L525.2,213.4L530.7,214.7L535.1,215.8L535.4,220.0L532.7,222.4M498.1,219.0L499.7,220.0L503.1,220.3L507.5,219.5L511.5,224.0L511.9,226.7L515.2,227.5M507.5,219.5L512.7,220.0L515.4,224.0L513.2,225.4M499.7,220.0L496.8,224.9L494.7,225.1M494.7,225.1L491.5,225.7L487.6,225.4L486.4,224.0L485.3,223.2M494.7,225.1L497.4,228.6L499.9,229.4L500.4,230.2M500.4,230.2L505.6,231.6L509.8,230.5L513.4,231.6M501.7,238.1L505.1,237.5L509.1,237.0L508.5,238.1L509.3,239.2M509.1,237.0L512.7,236.2M500.4,230.2L500.1,234.0L500.3,235.4L501.7,238.1M495.6,242.4L497.6,239.4L501.7,238.1M493.8,236.4L496.1,235.6L496.6,238.6L497.6,239.4M480.6,226.7L484.0,226.7L485.2,227.5L487.6,227.5L492.2,228.3L493.4,232.1L491.7,234.8M485.2,227.5L486.5,230.2L489.8,233.5L491.7,234.8M492.2,228.3L492.1,225.7M493.4,232.1L495.5,234.0L496.1,235.6M495.5,234.0L498.7,235.4L500.3,235.4M496.1,235.6L498.7,235.4M485.3,223.2L484.5,224.9L484.0,226.7M473.4,191.4L474.9,186.4L473.9,181.5L476.8,177.8L477.3,174.2L480.3,169.5L486.1,167.2L487.9,167.2M494.7,174.7L493.4,170.7L487.9,167.2M487.9,167.2L496.0,165.8L496.2,164.9L499.6,164.9L501.7,166.0L501.8,167.2M501.8,167.2L501.5,169.0L504.5,170.2L503.2,172.3L505.7,174.9L505.6,177.1L507.6,179.0L510.1,181.7L507.9,185.9L504.4,187.7M501.8,167.2L504.6,165.3M434.4,202.9L436.4,203.7L438.2,204.0M532.9,252.5L534.0,250.3L536.9,250.3L542.9,249.5L546.5,249.2L552.1,249.2L550.2,245.7L550.3,242.4M542.7,237.5L547.3,238.6L548.3,241.3L550.3,242.4M538.5,232.4L542.9,232.9L547.6,234.6L553.6,236.7L558.0,236.7M547.3,238.6L550.5,238.1L553.6,236.7M550.5,238.1L554.8,243.0L554.5,244.6M550.3,242.4L554.5,244.6L558.2,243.0L560.8,246.0M546.5,249.2L544.3,251.1L544.6,256.6L540.0,259.6M540.0,259.6L533.8,262.1L532.8,261.5M532.8,261.5L533.0,264.8L532.3,270.3M533.1,256.3L534.4,257.4L533.6,259.9L532.8,261.5M530.0,265.4L532.1,270.3M532.4,270.6L534.7,271.1L538.0,268.9L536.4,264.8L540.9,263.4M540.9,263.4L540.0,259.6M540.9,263.4L544.1,263.7L548.1,265.9L555.0,271.1L559.2,271.4M559.2,271.4L561.7,268.9L562.4,269.2M559.2,271.4L561.6,271.9L563.8,273.0M552.1,249.2L555.5,253.1L554.9,256.6L556.6,260.7L560.9,263.4L561.3,266.2L563.5,268.9M553.2,306.1L554.0,303.4L556.4,303.4L562.3,303.7L564.3,304.5L567.6,300.1L574.6,299.0M574.6,299.0L577.7,305.6M574.6,299.0L581.6,296.3L582.8,290.8M582.8,290.8L581.4,288.9L575.2,288.3L572.5,284.8M582.8,290.8L583.0,285.3L583.2,281.0M570.5,283.1L571.5,283.7M572.6,249.0L576.9,246.8L580.4,247.3L585.3,249.2L589.5,250.9L590.1,253.6M590.1,253.6L589.4,258.0L591.4,264.8L593.9,266.2L592.3,269.2M592.3,269.2L598.4,276.6L599.0,278.2L595.8,282.1M592.3,269.2L604.9,269.5L605.1,265.6L610.8,263.7L611.5,259.9L613.6,257.7L613.2,251.7L620.0,249.2M590.1,253.6L594.3,254.1L597.1,251.7L601.0,249.0M601.0,249.0L604.6,249.8L607.7,248.4L608.9,247.3L611.9,247.3L612.7,250.6L620.0,249.2M611.8,286.2L618.1,284.0L615.0,278.5L614.5,274.9L620.5,271.9L623.3,266.2L624.3,262.6L620.6,259.3L620.9,256.1L626.1,253.9L627.9,253.9M627.9,253.9L631.5,257.2L632.5,262.1L632.7,264.8L638.8,268.4M638.8,268.4L645.2,271.1L651.7,274.4L656.7,274.7M638.8,268.4L637.5,272.2L645.7,276.0L652.0,278.2L657.2,278.8L656.7,274.7M656.7,274.7L658.6,276.3L659.4,277.7L666.4,277.7L665.9,275.2L664.9,274.9L660.9,273.6L658.6,276.3M665.9,275.2L669.8,271.7L674.1,270.6L677.9,273.6M657.2,278.8L658.0,280.4L659.9,282.1L658.4,284.0L659.9,284.5L661.5,290.8M657.2,278.8L661.7,279.9L662.0,281.8L668.3,282.6L668.1,284.5L665.9,285.3L666.5,287.8L668.6,286.2L670.3,292.7L669.8,294.1M677.9,273.6L675.9,276.3L674.0,277.9L673.3,282.1L672.5,285.6L670.9,285.3L671.7,290.8L670.3,292.7M677.9,273.6L681.6,275.5L682.6,280.1L680.8,284.2L683.6,285.3L685.6,290.3L688.2,292.2L690.7,293.0M690.7,293.0L688.4,295.2M688.4,295.2L683.7,297.1L683.5,300.4L686.4,305.9L685.9,309.4L688.8,314.1L690.2,319.0L688.4,323.1M688.4,295.2L689.8,297.6L691.7,297.6L691.7,303.1L694.1,301.2L698.6,300.9L701.2,305.9L703.5,308.6L703.6,311.6M703.6,311.6L697.7,312.1L696.5,314.1L698.1,319.0M692.3,289.7L695.2,294.1L698.9,295.5L698.1,297.6L701.3,300.4L705.1,305.0L708.2,310.0L708.3,311.1M703.6,311.6L708.3,311.1M708.3,311.1L709.0,317.3L705.6,319.0L705.8,320.9L703.4,321.2L702.1,322.5M690.7,293.0L692.3,289.7M692.3,289.7L695.6,289.2L699.5,287.2L703.1,288.9L703.2,290.8L706.7,292.2M692.4,333.5L694.7,335.4L696.6,335.1L697.2,334.0M715.8,345.5L718.0,348.5L721.6,347.2L726.4,347.2L728.8,343.3L730.3,339.5L734.7,339.5M791.6,358.1L790.4,375.9M749.5,376.4L751.9,376.2L751.8,377.3M636.2,216.8L644.0,221.4L647.9,227.5L657.7,230.2L662.7,234.0L673.0,234.8L682.6,236.7L692.5,234.3L695.3,231.3L693.4,228.1L697.9,228.1L700.7,225.4L704.8,223.2L707.3,222.7L701.9,220.0L696.1,215.3M696.1,215.3L690.8,214.2L684.9,216.6L675.4,214.7L666.6,213.9L663.6,211.3L655.2,209.5L654.7,212.1L656.5,214.7L650.3,214.7L643.0,212.9L638.1,215.5L636.2,216.8M696.1,215.3L698.9,216.1L702.1,214.7L700.0,210.8L699.5,208.1L702.3,205.5L708.4,206.8L718.0,214.2L723.7,216.3L730.0,220.8L733.6,219.8L737.2,219.0L737.9,220.8L739.1,227.8L735.5,228.3L737.7,232.1L738.2,235.1M738.2,235.1L733.1,236.2L732.1,237.5L730.8,238.1L727.9,241.3M735.7,247.6L738.7,245.4M635.2,217.1L634.1,222.2L628.4,222.2L628.7,226.7L624.7,228.1L627.9,232.9L627.5,235.6M627.5,235.6L623.8,238.9L619.9,240.5L615.5,242.1M615.5,242.1L615.7,244.3L620.0,248.4L620.0,249.2L623.4,252.5L627.9,253.9M635.2,217.1L629.3,214.7L624.9,212.1L617.8,212.6L608.6,206.1L600.5,204.2L593.9,200.9L589.9,200.9L582.7,202.9L575.1,204.2L578.6,210.8L575.9,212.1L575.3,213.1L567.6,212.1L564.5,212.1L557.8,210.8L552.7,214.7L550.1,216.8L550.3,219.2L554.3,220.8L556.2,224.0M566.9,237.0L571.1,236.2L574.9,238.1M574.9,238.1L572.3,228.1L577.2,226.5L583.7,230.0L586.5,232.1L591.9,231.8L596.1,235.1L598.2,238.3L601.7,238.9L603.6,238.1L606.2,235.6L607.2,235.4M607.2,235.4L612.5,234.8L612.1,233.5L616.6,234.0L624.3,234.0L627.5,235.6M574.9,238.1L577.1,238.1L579.4,234.3L583.1,235.6L584.4,238.1L588.1,238.6L590.2,241.6L595.4,244.6L600.6,247.3L601.0,249.0M607.2,235.4L605.9,238.3L610.0,240.8L612.9,239.4L615.5,242.1M601.7,238.9L601.9,243.5L605.0,247.0L604.6,249.8M605.9,238.3L604.5,241.1L608.3,242.7L615.7,244.3" stroke="#1a1a1a" stroke-width="0.55" stroke-opacity="0.9"/><path d="M144.5,175.2L156.1,168.8L164.6,167.2L171.5,164.2L183.5,161.9L189.6,163.1L195.2,164.0L203.0,164.7L205.0,165.8L210.3,167.2L216.9,166.0L223.5,164.9L229.8,164.0L232.9,165.8L240.4,165.3L245.2,167.4L248.9,169.0L246.2,170.0L255.3,169.7L260.4,168.1L264.3,167.6L269.3,170.0L276.5,170.0L280.1,168.8L284.2,166.0L290.5,160.8L291.4,162.6L289.4,166.0L292.0,167.2L295.0,166.7L294.6,169.5L297.3,170.7L302.5,166.0L308.3,165.3L307.0,168.3L302.8,171.9L298.9,173.5L294.4,173.5L293.9,175.4L289.5,177.8L284.0,179.0L278.9,181.0L272.2,185.2L268.6,188.9L266.2,191.9L269.3,192.2L267.5,196.5L272.5,196.5L275.7,197.8L279.9,200.9L285.1,201.4L282.4,206.8L283.6,209.5L284.7,211.6L287.1,210.8L289.4,206.8L289.9,202.9L296.9,199.1L299.9,195.2L298.8,191.9L302.1,187.7L303.8,183.2L309.4,183.2L314.3,184.7L317.2,186.4L315.6,191.4L317.7,193.2L322.4,191.4L325.9,188.2L326.9,188.2L329.1,194.0L328.9,199.1L329.9,201.6L333.5,202.9L334.6,205.5L335.7,208.1L334.8,210.8L329.4,211.6L325.4,213.9L319.1,213.9L311.7,214.2L306.3,217.4L300.5,221.9L304.3,220.0L311.8,216.8L314.6,217.9L312.6,220.6L312.4,222.7L313.5,224.6L315.2,225.9L318.4,226.2L322.0,224.9L319.0,227.5L313.1,229.4L307.9,232.1L307.0,230.0L311.6,227.3L308.2,227.5L305.6,228.9L300.7,230.8L296.8,232.7L295.5,235.4L296.5,237.0L292.9,237.8L287.3,239.4L286.4,240.8L284.5,243.5L282.3,243.5L282.7,245.7L279.7,249.2L279.8,245.7L278.6,249.8L279.2,250.0L279.0,254.4L276.1,256.1L272.5,258.2L268.9,260.7L264.3,263.4L262.5,267.5L263.4,273.0L263.7,277.7L262.3,281.8L260.6,282.1L259.2,279.3L257.8,275.2L258.5,271.7L256.1,268.9L252.5,269.5L250.6,267.8L247.0,268.1L243.5,268.4L243.3,271.1L240.5,271.1L238.5,270.0L233.9,269.5L230.1,271.1L224.5,274.9L222.7,279.9L220.8,285.3L219.8,290.0L220.6,294.4L222.8,298.5L225.0,300.1L227.2,300.9L232.1,300.1L234.6,299.0L236.4,294.9L237.8,293.3L242.7,292.2L245.0,292.4L243.2,297.1L242.2,300.9L240.5,303.1L238.8,307.5L241.9,307.8L245.5,307.5L249.1,307.8L251.7,310.0L250.7,315.4L249.8,320.9L251.3,323.6L253.1,326.4L256.0,326.9L259.7,325.0L263.3,325.6L264.8,327.7M263.2,331.3L261.9,327.7L259.6,326.6L257.6,328.3L257.0,331.0L254.6,329.9L251.6,328.3L249.4,327.5L246.5,323.6L244.8,321.2L243.3,318.7L241.1,315.4L238.8,314.9L235.3,313.5L231.8,312.7L229.6,310.5L226.5,306.9L222.8,307.8L219.2,307.5L214.7,305.6L210.2,303.4L206.9,301.8L203.7,299.0L200.6,296.3L201.2,292.2L200.3,288.1L197.0,282.6L194.3,279.0L192.8,275.8L190.4,271.7L189.5,266.7L186.7,264.8L185.1,267.5L186.7,272.2L188.1,275.8L189.9,279.9L190.8,284.5L192.5,287.8L190.7,287.2L187.5,283.1L187.3,279.0L183.7,276.6L183.9,273.8L182.3,268.9L181.8,264.3L181.6,261.5L180.0,258.0L175.9,256.6L175.3,252.5L175.1,247.9L174.6,243.0L174.9,240.2L177.3,236.2L178.2,233.5L182.4,228.1L184.5,224.6L186.4,219.2L190.0,219.2L189.7,221.4L191.7,217.4L189.9,214.7L186.5,212.1L187.4,208.1L187.1,203.5L187.8,200.4L187.2,196.5L187.3,193.2L183.9,192.7L182.9,190.7L180.3,189.4L175.0,188.9L171.5,187.7L167.5,186.9L161.9,189.4L156.7,190.7L162.4,186.4L164.8,185.9L158.1,187.7L153.4,190.2L148.6,192.7L141.9,195.2L134.7,198.3L127.2,200.6L120.5,202.2L116.7,202.9L124.7,200.1L130.7,198.3L138.0,195.2L143.3,192.2L140.4,192.2L135.8,191.9L138.3,188.9L135.0,187.7L135.8,184.7L141.8,181.5L145.2,181.0L152.3,179.0L153.6,177.3L148.3,177.8L146.3,175.9L144.5,175.2M338.1,147.2L342.0,151.7L344.9,152.1L354.8,151.7L356.6,153.8L358.4,159.3L356.9,163.7L362.4,164.9L356.5,168.3L355.8,171.9L355.5,176.6L357.3,181.5L358.3,186.4L362.4,188.4L367.0,189.2L370.2,185.2L374.5,180.3L381.6,175.4L392.0,170.7L401.4,168.8L407.3,166.0L412.1,164.2L410.1,161.5L414.0,159.3L416.3,156.0L419.5,152.8L421.0,149.6L420.2,146.6L424.0,143.7L432.7,141.0L422.0,140.2L408.4,138.1L394.2,137.9L379.0,139.4L363.9,140.2L355.0,141.9L348.9,143.7L351.1,144.7L343.2,146.6L338.1,147.2M317.6,156.6L323.1,157.1L324.4,159.7L329.2,162.6L332.9,164.9L333.3,167.2L336.6,170.7L339.3,172.3L334.4,176.6L329.6,177.1L329.8,180.3L327.1,182.0L322.6,181.5L317.9,179.8L314.4,177.8L307.7,178.3L308.1,176.1L315.9,175.4L319.8,171.9L319.9,168.8L316.2,166.5L313.8,164.9L308.4,165.1L302.0,164.4L297.4,163.7L299.3,160.4L308.1,157.1L317.6,156.6M307.9,150.7L323.4,151.1L328.9,148.6L335.5,146.6L342.0,144.7L355.0,141.9L361.7,139.4L351.0,138.6L336.7,138.6L320.3,140.2L315.2,141.9L318.9,143.7L317.1,146.6L307.9,150.7M304.7,150.7L321.8,152.8L320.3,154.5L300.7,154.5L297.6,152.8L304.7,150.7M249.0,163.7L253.5,167.9L265.5,168.3L271.8,167.2L275.6,164.9L270.8,162.6L275.4,158.2L267.0,158.2L259.4,157.5L251.5,159.3L249.8,161.5L249.0,163.7M239.2,160.4L240.5,162.2L245.5,161.5L254.4,158.2L258.3,157.1L257.9,155.3L252.7,154.9L245.5,156.0L239.2,160.4M262.1,152.8L272.0,153.8L279.8,152.8L279.3,150.7L268.1,150.7L262.1,152.8M281.5,160.4L285.6,161.5L290.7,157.1L286.0,156.0L281.5,160.4M290.2,159.3L299.2,158.6L301.7,156.0L294.2,156.0L290.2,159.3M302.5,147.2L315.5,146.6L321.0,143.2L315.2,141.9L306.9,143.7L302.5,147.2M292.1,175.4L297.3,175.9L300.9,180.3L295.0,182.2L291.6,180.3L289.6,179.0L292.1,175.4M324.7,220.8L331.0,223.2L337.4,223.5L338.7,221.1L337.6,218.7L337.3,216.1L334.0,215.3L335.9,210.8L332.3,212.1L328.9,216.1L324.7,220.8M183.2,212.9L188.8,214.7L189.3,218.7L186.7,218.4L185.4,216.6L183.2,212.9M180.4,204.2L183.0,204.2L180.6,208.9L179.7,206.8L180.4,204.2M145.9,195.2L151.6,194.0L149.0,196.0L144.4,197.0L145.9,195.2M249.9,291.1L255.0,288.1L261.0,287.8L268.7,291.9L273.2,294.4L274.9,295.7L267.0,296.6L266.6,294.4L265.2,292.2L259.4,290.8L256.0,289.4L252.3,290.8L249.9,291.1M274.0,300.4L277.7,296.6L281.3,296.6L284.8,297.1L288.0,299.8L287.4,301.2L282.0,301.2L280.2,302.6L274.0,300.4M264.6,300.9L269.3,301.5L267.6,302.3L264.6,300.9M264.8,327.7L266.8,326.4L269.5,322.3L271.2,320.9L275.6,319.5L278.2,317.6L279.8,318.7L278.6,321.7L282.9,318.2L286.4,320.4L287.5,322.0L292.3,322.0L295.9,323.1L301.9,321.7L304.2,324.2L305.3,327.7L308.9,329.1L312.3,333.8L318.3,334.9L321.9,336.0L325.5,338.1L327.9,340.1L330.2,346.1L330.2,349.6L333.8,352.4L335.0,352.9L339.9,354.3L343.5,357.8L347.1,357.8L350.8,358.9L354.4,358.7L358.0,361.1L361.7,364.1L365.8,365.2L366.6,370.2L367.2,372.9L365.6,377.0L362.1,381.1L359.8,386.0L357.6,390.7L358.0,397.5L356.6,403.0L355.0,408.5L352.9,412.6L349.5,413.9L346.0,414.5L341.4,416.7L338.2,420.2L337.1,423.5L337.4,428.4L335.0,433.1L332.2,438.0L329.5,442.7L327.8,445.9L323.4,446.5L319.7,445.4L317.4,444.0L321.0,448.1L322.6,450.9L321.4,455.5L316.6,457.4L312.2,457.7L312.6,461.8L309.2,463.1L307.0,463.1L310.6,466.6L309.0,469.9L309.1,473.9L305.7,476.6L310.2,480.6L308.9,485.9L307.3,489.9L309.7,493.3L306.9,493.9L306.3,497.2L302.9,496.5L298.6,493.9L294.3,488.6L291.0,483.3L291.1,478.0L290.3,472.6L290.1,465.8L286.9,460.4L285.7,455.0L285.7,450.9L286.6,445.4L286.5,439.9L285.1,433.1L285.1,426.2L285.2,419.4L284.7,411.2L284.2,404.4L283.2,401.1L280.5,398.3L275.5,395.6L270.4,392.0L268.2,388.8L265.6,383.8L262.9,378.4L260.7,373.4L258.1,368.8L255.1,367.4L254.8,363.3L257.1,360.3L257.8,357.8L255.3,357.0L256.0,353.7L257.7,351.0L257.7,348.8L260.1,347.7L260.6,346.1L263.8,342.8L264.4,340.1L264.0,336.0L264.4,332.7L263.2,331.3M310.1,494.1L311.7,496.5L316.3,499.1L319.1,499.6L316.9,500.6L312.1,501.1L306.1,499.1L307.0,496.5L310.1,494.1M324.4,491.2L330.7,491.2L329.2,493.1L324.9,492.5L324.4,491.2M437.6,253.1L444.2,254.4L448.7,253.3L453.3,251.1L457.8,250.0L466.8,249.8L473.6,249.0L475.8,249.8L474.9,253.9L474.3,257.2L476.2,259.3L480.9,261.0L486.0,262.6L488.0,265.4L492.7,267.5L497.2,266.2L497.0,262.1L501.5,261.0L508.7,264.3L515.7,266.2L520.3,265.1L524.9,265.4L526.4,268.9L529.2,274.4L531.9,279.9L534.7,285.3L538.0,290.8L539.3,296.3L542.7,301.8L545.4,308.6L549.2,311.3L552.9,315.4L554.9,316.8L554.8,319.5L558.0,322.3L563.9,320.4L568.7,320.1L574.0,318.7L573.6,322.5L571.5,329.1L569.2,334.6L565.7,340.1L560.9,345.0L556.1,349.6L552.5,353.7L548.8,357.8L546.3,363.3L545.0,368.8L546.1,374.3L546.7,378.4L548.3,381.1L548.0,390.7L546.5,395.3L541.6,398.3L537.8,402.4L534.1,405.7L535.0,411.2L534.7,416.7L528.5,420.8L527.5,424.9L526.0,429.8L522.9,433.1L520.3,436.6L516.5,440.5L512.8,443.2L509.3,444.0L503.6,444.0L496.6,446.2L493.3,444.6L492.9,439.9L491.5,435.8L489.4,429.3L486.8,424.9L485.8,419.4L485.0,412.6L482.3,405.7L479.6,400.2L479.2,394.8L480.9,389.3L483.4,385.2L483.9,379.7L482.3,375.6L480.7,367.4L479.5,363.3L477.6,360.6L474.0,356.5L472.7,352.9L474.0,348.3L474.7,344.2L474.4,341.4L472.7,339.2L471.5,338.4L467.9,339.0L465.5,339.2L463.1,336.0L461.6,333.8L457.0,333.8L453.9,334.3L449.8,336.2L446.2,337.9L443.8,337.0L440.1,336.8L436.5,337.9L432.9,339.0L429.3,336.8L425.7,333.2L423.3,332.1L420.9,330.5L419.2,327.7L418.5,325.0L416.1,322.3L414.9,320.9L412.6,318.2L410.9,316.8L410.7,314.1L409.1,310.8L411.6,307.2L412.1,303.1L412.7,299.0L411.8,297.6L410.7,293.5L413.3,286.2L415.7,282.6L417.0,279.0L419.4,275.8L420.7,274.7L424.2,273.0L427.8,270.3L428.6,266.2L429.6,262.1L432.7,259.3L435.0,258.0L437.3,254.4L437.6,253.1M569.4,383.8L571.3,392.0L570.0,394.8L568.9,400.2L565.9,408.5L562.9,416.7L561.5,419.4L556.7,420.8L554.6,418.0L553.8,412.6L556.2,405.7L555.8,400.2L557.3,395.3L562.2,393.4L566.1,387.9L569.4,383.8M438.5,252.5L440.8,250.6L446.5,250.3L449.9,247.6L451.0,245.1L450.3,243.0L453.2,238.9L458.1,236.2L458.7,232.7L461.9,232.7L465.2,233.2L467.4,231.3L470.6,230.0L473.2,231.0L474.0,233.5L477.0,236.2L479.8,238.3L483.2,239.7L485.5,241.6L486.8,244.3L486.3,247.0L488.1,246.5L489.1,244.3L487.8,242.4L488.8,240.2L492.2,241.1L490.9,239.7L486.3,236.7L484.1,236.2L481.7,234.3L480.5,231.8L478.0,230.2L477.6,227.3L480.5,226.2L480.7,228.3L483.6,229.4L486.0,232.1L489.4,233.7L492.9,236.2L494.2,238.9L494.1,240.8L496.8,243.5L498.8,246.2L500.0,249.8L501.9,251.1L502.8,248.4L504.3,247.0L504.9,246.5L502.5,244.3L501.6,240.2L504.4,240.8L504.2,239.2L508.7,239.4L509.4,241.6L511.0,240.2L515.2,238.6L512.7,236.4L512.4,233.5L513.3,230.8L515.2,227.5L516.6,224.9L519.7,224.0L522.0,225.4L523.7,229.2L527.9,228.1L529.9,227.0L526.3,224.9L530.2,222.7L533.3,222.2L534.8,222.2L532.7,224.6L532.1,227.3L531.3,228.9L534.7,230.0L538.5,232.4L542.2,234.8L542.7,237.5L539.6,238.9L535.2,238.9L530.6,238.1L528.1,236.2L523.7,236.2L520.7,238.1L516.3,238.3L515.4,238.6L511.0,240.5L509.5,243.0L511.6,245.7L512.6,249.2L514.3,250.6L517.9,252.0L520.4,250.3L523.5,251.7L528.0,251.7L532.4,250.6L532.8,253.9L532.7,256.6L531.4,261.3L530.6,264.8L530.0,265.4L525.6,265.6M532.3,270.3L532.7,274.4L536.6,279.9L539.3,284.5L543.3,290.8L544.0,294.9L548.6,300.4L552.5,305.9L554.0,312.7L555.4,316.3L559.0,316.0L566.0,312.7L570.6,310.0L575.2,306.4L579.8,304.5L583.2,302.3L586.5,299.0L588.6,294.9L592.3,289.4L589.4,286.4L585.3,285.3L583.3,279.3L582.5,281.2L579.3,284.5L573.5,285.3L572.0,281.2L571.1,279.6L570.5,282.6L568.2,278.5L565.4,274.4L562.5,270.3L563.9,268.4L567.0,268.9L569.9,273.0L573.7,275.8L578.7,278.2L583.2,277.1L586.0,280.7L592.0,281.8L596.7,282.1L602.6,281.8L607.2,281.5L609.3,283.1L611.3,285.9L614.1,289.4L618.1,293.8L621.6,293.5L622.6,290.0L623.8,296.3L624.1,299.0L625.9,304.5L628.0,310.0L630.4,315.4L633.2,320.9L635.1,325.0L637.7,328.8L639.3,326.4L641.6,325.6L642.9,322.8L643.4,315.4L642.9,310.0L645.6,306.4L647.8,304.5L650.9,300.4L654.0,296.8L657.2,294.1L657.0,292.2L660.4,291.4L665.0,290.0L668.0,290.0L669.8,294.1L674.7,300.4L676.8,307.2L679.2,307.8L682.5,305.0L684.6,308.6L685.9,314.1L687.6,319.5L687.7,326.4L687.8,329.1L690.9,332.4L692.9,334.6L694.3,338.7L695.7,343.3L701.1,347.2L702.7,345.5L700.9,340.1L699.5,336.0L697.0,333.8L694.5,332.1L692.6,329.1L691.2,325.6L689.8,322.3L691.1,318.2L691.2,314.3L693.2,314.6L694.6,316.5L697.1,318.2L698.6,320.9L702.3,322.5L703.3,326.9L704.9,325.6L707.6,322.8L709.5,322.3L712.8,319.5L713.2,315.4L711.8,310.0L708.9,306.4L705.2,302.6L702.6,299.0L703.7,295.5L705.6,292.7L707.8,291.6L710.2,292.2L712.0,295.5L712.7,292.7L716.0,291.4L719.4,290.3L721.6,289.4L724.9,288.1L727.9,285.3L730.6,281.8L731.5,278.5L732.5,275.2L734.2,273.0L734.2,269.5L731.3,267.5L732.7,266.2L731.9,264.0L727.7,260.7L723.5,255.8L723.9,252.5L727.7,249.8L726.4,248.4L722.9,247.6L719.5,249.0L716.0,246.2L714.9,243.8L717.3,241.9L719.2,239.2L722.0,240.2L722.5,244.3L724.4,242.7L727.8,241.6L730.1,243.0L732.8,247.0L736.1,248.4L738.0,252.5L739.3,256.6L741.8,256.1L744.6,254.7L744.2,251.1L741.8,248.4L737.8,244.9L735.4,242.4L737.1,239.4L737.5,236.2L738.9,234.8L739.8,232.7L743.9,234.0L746.2,230.8L746.8,226.7L747.3,222.7L747.7,217.9L743.6,212.1L742.6,208.7L739.9,206.1L733.8,204.2L730.8,204.2L725.1,202.4L725.1,199.1L726.7,194.5L728.1,190.9L733.4,190.4L739.9,190.2L747.1,191.4L752.1,190.7L750.2,186.4L753.5,184.4L758.0,182.7L763.0,185.2L758.7,187.2L759.7,194.0L761.0,197.0L765.2,201.6L773.2,208.1L777.3,212.1L777.6,209.5L776.5,204.2L776.5,200.4L773.3,196.5L771.0,192.7L769.7,189.2L772.4,188.2L779.7,188.9L779.8,186.4L782.0,184.4L784.4,182.7L788.5,183.0L782.3,177.8L779.5,177.8L775.2,175.4L781.5,176.6M120.5,176.6L129.0,177.1L131.1,178.3L138.7,175.4L143.1,174.0L141.9,171.9L138.3,170.7L135.7,168.8L134.0,167.6M768.0,167.6L762.7,166.5L755.6,165.3L748.0,164.9L744.1,165.8L739.2,166.0L732.2,166.0L724.5,163.1L713.5,162.6L706.8,161.5L697.5,159.7L687.8,158.8L688.0,161.5L681.2,161.5L675.8,162.6L670.2,160.8L662.6,157.5L656.5,156.6L651.7,158.2L641.6,156.6L634.8,153.8L625.9,150.7L615.1,148.4L610.0,150.7L603.2,151.7L596.3,152.8L591.9,154.9L587.3,157.1L586.5,159.3L583.2,160.4L577.3,159.3L575.5,161.5L580.1,167.2L582.2,171.9L581.1,173.0L578.9,172.3L577.5,167.2L575.4,162.6L568.1,158.2L567.8,161.5L568.0,166.0L572.3,168.8L565.2,167.2L556.3,165.3L553.1,167.6L546.6,168.8L539.9,169.5L532.6,169.0L528.8,168.3L529.2,171.9L530.9,174.2L525.1,173.0L524.8,177.8L521.5,179.0L518.7,179.0L515.6,177.8L512.8,174.2L510.5,172.6L514.2,173.0L520.0,174.2L524.2,173.0L524.3,170.7L518.2,168.3L512.4,166.7L508.7,166.3L504.8,164.9L500.9,163.1L495.6,162.6L490.7,163.7L485.7,164.9L482.5,166.5L479.3,168.3L476.9,170.7L474.6,174.2L472.2,177.1L469.6,179.5L466.0,181.0L462.3,183.2L460.5,185.9L461.1,190.2L462.7,192.7L465.7,194.0L468.6,192.2L471.4,190.2L472.4,191.4L473.6,194.0L475.9,197.8L477.1,200.4L479.7,200.4L480.0,199.1L482.9,198.3L483.6,195.2L484.2,192.2L486.9,190.2L485.6,187.7L483.7,185.2L484.0,182.7L486.4,180.3L489.0,179.0L490.5,176.6L491.6,174.7L494.7,174.7L497.4,176.6L496.3,178.3L493.1,181.0L491.2,183.2L492.1,186.4L494.3,188.4L499.2,188.4L503.8,187.7L507.0,188.9L509.3,189.2L505.2,189.9L499.5,190.2L496.7,190.9L497.0,192.7L498.9,193.4L498.9,195.7L496.6,196.5L494.4,195.0L493.1,196.5L493.0,199.1L493.4,201.6L491.5,202.4L489.5,203.2L487.4,202.2L483.5,203.5L480.1,204.5L476.3,203.2L473.4,204.2L471.3,202.9L471.1,200.4L471.9,197.8L471.7,195.0L469.8,196.2L467.3,197.3L467.5,200.4L468.6,202.2L468.9,204.2L467.3,205.3L465.3,205.8L462.3,206.1L460.6,207.1L459.3,209.5L457.9,211.3L456.2,212.1L454.3,212.9L454.1,214.5L451.4,215.8L448.5,216.3L447.2,215.5L447.6,218.2L444.7,217.9L441.0,219.0L441.8,220.6L445.7,221.9L446.7,223.5L448.4,225.4L448.4,229.2L447.3,232.4L443.3,232.4L437.9,231.8L433.5,231.6L430.9,233.2L431.6,236.2L431.5,240.2L429.9,244.9L431.2,246.0L431.1,249.5L434.3,249.2L436.7,250.6L438.5,252.5M439.1,214.5L443.7,213.9L448.9,212.9L453.7,211.6L453.1,210.2L454.5,207.6L451.4,206.8L451.0,205.0L448.6,202.7L447.6,199.8L445.0,199.1L447.0,196.5L447.1,194.7L443.1,194.7L444.7,192.4L441.2,192.4L439.7,195.2L440.0,199.1L441.3,201.6L443.9,201.9L444.9,204.2L444.9,205.8L441.8,206.1L442.4,208.1L440.2,210.0L443.7,210.8L444.8,211.6L441.6,212.1L439.1,214.5M430.3,210.5L434.4,210.2L438.0,208.9L438.7,206.1L439.2,202.9L437.9,201.1L434.9,201.1L433.8,202.9L430.7,203.7L431.5,206.3L430.4,208.9L430.3,210.5M407.2,175.4L411.2,173.3L414.6,174.9L418.4,173.7L422.1,173.0L424.5,175.4L425.8,177.1L422.3,178.6L416.5,180.5L412.0,179.5L408.8,179.3L410.4,177.8L406.9,176.9L409.8,176.1L407.2,175.4M467.7,144.7L473.5,143.7L480.9,143.4L489.9,143.4L484.7,146.0L480.0,148.6L477.2,150.2L472.9,148.6L467.9,146.6L467.7,144.7M538.8,161.5L543.0,163.1L549.3,163.5L545.1,160.4L544.1,157.1L546.0,154.9L549.5,152.8L556.0,150.7L559.9,149.6L555.1,149.6L546.7,151.1L541.7,153.2L540.4,156.4L538.6,159.3L538.8,161.5M597.6,145.6L605.7,147.2L612.7,146.6L605.7,143.7L594.2,141.9L592.1,143.7L597.6,145.6M672.2,152.8L682.7,154.3L687.5,153.2L694.3,153.4L685.0,151.7L673.1,151.3L672.2,152.8M479.1,247.0L485.8,246.5L485.2,250.6L479.2,248.1L479.1,247.0M469.2,238.9L472.3,238.9L472.5,243.8L470.0,244.3L469.2,238.9M469.9,234.8L471.8,233.5L471.8,237.5L470.4,237.5L469.9,234.8M504.4,253.9L510.6,254.4L506.8,255.2L504.4,253.9M524.6,255.2L529.4,253.6L527.4,256.1L524.6,255.2M556.2,224.0L560.3,223.2L564.7,224.0L565.8,228.1L561.8,229.4L561.7,233.5L566.7,236.2L568.7,240.2L570.7,244.3L572.7,248.4L568.6,250.3L563.8,249.0L560.9,245.7L561.0,240.2L556.8,236.2L553.7,232.1L553.9,228.1L556.2,224.0M739.2,203.5L744.3,206.8L749.4,212.1L754.5,216.6L756.9,222.7L759.5,224.9L756.7,225.4L752.9,220.0L748.8,214.7L744.1,209.5L739.2,203.5M759.5,236.2L758.4,232.7L756.7,227.0L762.0,230.0L767.6,230.8L769.5,232.9L767.2,236.2L762.0,234.8L761.3,237.3L759.5,236.2M762.7,237.8L768.1,243.0L768.1,247.0L770.4,252.5L769.9,255.2L767.4,256.1L763.6,256.3L762.7,259.3L759.4,257.2L755.0,257.4L750.6,258.0L749.9,256.3L752.4,254.1L756.7,253.6L759.6,252.5L760.1,249.0L763.5,249.0L763.7,244.3L762.0,240.2L762.7,237.8M748.9,259.3L752.7,259.1L754.7,263.4L753.2,266.2L751.0,263.4L748.8,260.7L748.9,259.3M754.1,258.0L758.4,257.4L758.7,259.6L756.6,261.3L754.1,258.0M736.6,282.1L738.2,284.0L737.0,289.4L734.8,288.1L734.7,284.0L736.6,282.1M709.3,298.2L713.3,296.3L714.7,297.6L712.9,300.9L709.6,299.8L709.3,298.2M643.5,324.5L646.6,327.7L648.2,331.8L646.4,334.3L644.0,334.6L643.0,329.1L643.5,324.5M737.8,300.4L741.8,300.7L742.3,305.9L741.7,310.0L744.5,312.7L748.4,315.4L747.3,316.3L743.3,313.2L741.0,313.5L739.5,311.3L737.7,307.2L737.8,300.4M745.1,331.8L748.4,327.7L753.0,325.0L755.8,329.1L754.9,333.8L753.3,335.1L750.0,333.2L745.1,331.8M746.5,319.5L751.0,316.8L752.6,320.9L749.3,323.6L746.9,323.6L744.3,321.7L746.5,319.5M733.5,327.7L738.2,320.9L737.3,323.6L733.5,327.7M714.3,345.5L716.8,346.3L720.3,343.6L723.9,341.4L727.3,337.9L730.7,333.2L733.1,331.8L736.9,336.0L735.9,339.2L734.8,342.8L736.1,346.9L735.0,351.0L732.5,355.1L731.1,360.6L727.4,361.9L723.9,359.8L720.3,359.2L716.8,355.1L714.4,351.8L714.3,345.5M680.9,335.7L686.3,336.8L690.1,341.4L693.8,345.0L697.5,348.3L701.1,352.4L703.5,356.5L707.0,359.2L706.2,366.9L703.1,366.9L698.4,362.5L695.0,357.8L691.4,352.4L689.0,346.9L685.3,342.8L680.9,335.7M704.6,369.6L708.4,367.4L712.6,368.8L718.7,368.8L722.7,370.2L726.9,372.1L726.5,374.8L720.8,374.0L713.6,372.3L707.7,371.2L704.6,369.6M741.0,348.8L743.4,347.4L749.4,348.5L753.0,346.6L750.7,350.2L744.6,349.9L742.2,351.0L744.6,353.7L748.9,353.2L746.9,356.5L745.2,358.7L748.0,361.9L746.6,365.5L744.3,363.9L743.2,359.2L741.5,359.2L741.5,366.0L739.3,366.0L739.6,360.6L738.4,357.8L740.5,352.4L741.0,348.8M767.5,353.2L771.2,352.1L774.8,353.2L775.9,357.8L777.0,360.0L779.5,357.3L784.4,355.4L791.6,358.1L798.7,361.4L802.9,364.7L806.8,367.4L805.4,369.6L807.6,372.9L811.8,378.4L812.8,380.0L807.0,378.9L803.7,375.1L799.2,372.1L795.4,374.3L795.2,376.2L790.4,375.9L787.1,372.9L783.4,373.7L785.6,370.2L784.0,366.0L779.3,363.6L774.5,361.7L772.1,361.9L771.7,359.2L769.8,358.7L767.5,355.1L767.5,353.2M748.0,379.2L751.9,375.6L756.9,374.0L753.0,377.5L748.0,379.2M730.4,374.3L737.6,374.0L747.3,373.7L739.9,375.4L730.3,375.4L730.4,374.3M759.0,346.9L761.5,348.3L760.3,352.4L759.1,349.6L759.0,346.9M760.1,359.2L766.2,359.2L764.9,360.8L760.1,360.3L760.1,359.2M809.3,366.0L814.1,366.0L817.9,362.8L817.8,364.7L814.0,368.0L809.3,366.0M719.5,411.2L720.8,410.6L724.8,407.9L728.4,407.6L733.5,405.7L738.5,404.4L742.3,400.2L742.5,397.5L745.5,398.3L746.4,395.3L750.0,392.6L754.0,389.3L757.3,391.5L760.8,392.0L762.1,387.9L764.9,384.9L769.1,383.8L769.8,382.2L775.1,384.4L779.4,384.4L777.0,387.9L775.2,392.0L778.3,394.8L782.6,397.5L785.8,399.2L789.3,393.4L790.6,386.6L792.3,381.1L793.6,380.3L795.4,385.2L795.4,390.1L798.6,392.0L798.4,396.1L798.7,402.4L801.4,404.4L804.4,407.1L804.6,411.2L806.9,414.5L808.8,418.0L810.4,420.8L809.0,426.2L808.2,430.3L804.8,435.8L801.8,439.9L797.3,443.5L793.2,448.1L789.6,452.8L785.3,454.4L778.9,457.7L776.6,455.8L772.5,457.1L768.8,455.8L766.6,453.6L767.5,449.5L765.2,448.1L766.9,445.9L767.4,441.3L767.9,440.2L764.6,443.5L762.0,446.8L760.4,446.2L760.1,443.2L759.0,440.5L755.2,438.6L753.4,437.2L748.7,437.5L743.5,439.1L738.3,440.5L735.5,441.8L733.6,443.8L728.0,443.5L724.0,444.8L719.8,446.8L716.4,446.8L714.2,444.8L714.5,442.7L717.1,439.9L718.1,437.2L717.8,433.1L718.1,429.0L717.8,424.9L716.8,422.1L718.6,418.0L718.8,414.8L719.5,411.2M772.1,462.3L775.4,463.4L779.8,462.8L777.2,466.4L773.9,469.1L770.0,469.9L770.7,466.6L772.1,462.3M845.4,445.1L847.6,447.6L848.3,450.9L847.5,453.9L852.0,453.9L851.0,456.3L847.5,458.2L845.6,459.9L841.6,463.1L837.7,464.5L838.5,462.6L840.8,460.9L839.5,459.0L843.0,456.3L845.3,453.0L845.3,450.3L844.8,447.3L845.4,445.1M834.7,461.8L835.7,465.0L830.1,468.5L827.7,470.7L823.6,472.0L819.1,476.1L814.5,478.2L811.6,478.0L809.4,476.6L812.7,473.9L818.1,471.2L824.6,468.5L829.3,465.3L834.7,461.8M840.1,406.3L845.0,410.6L845.8,412.0L841.8,409.3L840.1,406.3M873.6,398.9L876.5,398.6L876.0,400.8L873.2,400.5L873.6,398.9M80.8,295.7L83.0,296.8L81.0,299.0L80.4,297.6L80.8,295.7M172.5,554.8L196.1,555.0L202.5,552.8L212.5,551.3L224.2,548.8L238.0,547.1L253.0,546.0L270.2,546.7L283.7,543.8L292.1,543.8L303.8,543.8L317.5,544.3L324.7,542.7L322.3,539.4L328.0,534.8L329.5,531.3L331.1,527.8L334.7,524.2L341.0,521.7L344.5,521.3L344.7,523.7L339.9,525.4L338.4,527.8L336.9,530.1L341.4,533.7L345.1,537.1L347.6,541.6L351.3,544.9L351.8,548.2L347.6,551.3L356.3,552.4L364.9,553.4L376.5,554.4L388.9,554.4L396.2,553.4L403.3,551.3L409.0,549.2L417.8,544.9L425.7,542.7L433.8,539.4L442.4,538.3L451.0,537.1L459.7,537.1L468.4,537.1L477.2,536.0L485.7,537.1L494.4,537.1L503.6,535.3L512.5,534.8L517.1,536.7L521.4,534.4L531.2,532.0L541.0,529.7L549.1,527.8L553.8,529.4L558.5,530.9L567.2,531.3L575.4,532.5L576.8,536.0L582.0,536.0L588.8,533.7L598.4,530.1L610.0,529.0L617.6,528.5L628.1,526.6L633.0,527.3L641.3,528.3L650.8,527.8L658.8,529.0L667.1,529.7L677.3,528.5L687.2,527.8L696.2,527.8L703.4,529.4L711.6,530.1L716.7,533.2L723.3,534.8L728.9,537.1L734.8,538.9L740.9,540.5L735.4,543.8L722.7,548.2L711.3,552.4L710.2,554.4L721.8,554.8L729.5,554.8M253.6,223.4L256.2,223.0L258.0,223.8L261.4,223.2L263.2,224.0L265.4,224.0L268.7,223.8L270.1,223.0L270.1,221.4L268.5,220.3L268.0,218.2L264.6,217.6L261.2,220.0L258.0,221.4L253.6,223.4M257.5,236.2L259.0,237.0L261.1,235.4L262.4,232.1L264.5,228.6L266.6,227.3L267.8,225.9L265.0,225.9L263.1,226.7L261.1,228.1L258.9,232.1L257.5,236.2M268.5,225.7L271.4,225.1L274.5,225.4L276.4,225.9L277.7,228.1L277.2,229.4L274.6,228.9L272.5,232.1L270.4,233.5L270.8,231.3L268.8,231.6L268.1,231.0L270.0,229.4L270.6,227.5L268.5,225.7M267.0,236.7L268.7,237.5L272.3,236.7L276.1,235.4L277.9,234.0L275.9,234.0L273.1,234.6L269.3,235.9L267.0,236.7M276.4,232.7L279.3,232.7L282.6,232.7L284.6,231.8L284.6,230.5L282.1,231.0L278.7,231.3L276.4,232.7M250.3,204.8L251.8,205.5L250.8,210.8L249.3,213.4L248.1,213.7L248.7,210.8L248.4,206.8L250.3,204.8M224.4,173.7L229.7,172.1L234.2,172.1L236.4,173.5L234.8,176.1L229.8,176.6L226.8,175.9L223.1,175.9L224.4,173.7M227.3,186.4L230.2,186.4L233.5,185.9L237.9,185.2L245.2,182.2L242.5,182.0L236.6,183.4L232.8,183.4L229.4,185.2L227.3,186.4M527.6,350.5L530.7,349.9L533.2,351.0L533.6,353.7L531.9,357.3L529.5,358.4L527.8,356.5L527.6,353.7L527.6,350.5M521.5,360.3L522.4,363.3L522.9,367.4L525.2,371.5L526.1,374.8L524.5,373.7L522.1,368.8L521.2,364.7L521.5,360.3M532.8,377.0L534.0,379.7L534.3,383.8L535.4,387.9L534.8,390.4L533.7,387.9L533.1,383.8L532.8,379.7L532.8,377.0M576.6,224.0L579.8,224.0L583.2,224.9L583.1,228.1L582.0,231.6L578.8,231.8L577.3,228.1L576.6,224.0M610.4,226.7L611.8,223.5L616.3,224.0L620.3,223.5L618.7,224.9L614.3,224.6L611.9,226.7L610.4,226.7M666.2,210.8L668.5,210.2L670.3,208.1L672.1,204.8L671.4,200.4L669.7,199.8L669.8,202.9L669.1,206.3L667.0,209.5L666.2,210.8M509.9,188.9L513.5,188.2L513.6,185.9L510.8,184.7L508.8,185.9L509.9,188.9M516.9,186.4L519.7,185.9L517.9,182.7L516.3,183.9L516.9,186.4M483.6,314.1L485.8,314.3L486.0,316.0L484.1,316.3L483.6,314.1M329.4,351.8L325.4,355.1L320.5,356.5L316.9,357.0L313.3,358.1L309.7,359.8L306.1,359.5L302.5,361.1L297.5,362.2L289.2,360.0L282.0,362.2L276.2,360.6M306.1,359.5L303.6,356.5L300.0,354.3L296.3,352.9L291.5,351.3M487.9,362.8L489.6,360.3L490.9,356.5L493.5,352.6L494.5,349.1L496.9,346.6L500.5,345.3L503.7,344.7L506.6,345.5L509.7,348.5M513.7,432.0L517.4,429.5L519.3,431.7L517.0,434.7L514.3,434.2L513.7,432.0M523.7,422.1L526.0,423.0L525.8,425.4L523.5,425.4L523.7,422.1M664.8,159.3L667.7,162.6L669.7,167.2L671.7,170.7L675.0,174.2L680.1,177.1L687.1,179.5L694.9,182.7L695.0,185.7L690.6,187.2L684.8,188.2L680.8,187.9M692.6,180.7L696.5,180.5L702.0,182.2L707.8,185.2L710.2,188.2M254.5,151.3L259.7,152.1L266.5,150.7L266.5,149.0L260.1,149.6L254.5,151.3M285.5,152.8L292.0,153.4L296.0,150.7L290.9,150.2L285.5,152.8M294.7,153.2L298.9,153.8L300.2,152.5L296.4,152.3L294.7,153.2M276.6,166.7L281.5,168.1L284.4,165.8L280.6,165.1L276.6,166.7M316.0,157.5L321.9,158.6L324.7,157.1L319.4,156.4L316.0,157.5M313.0,170.0L316.7,171.1L317.3,168.8L313.0,170.0M294.5,181.5L297.5,182.7L295.1,183.4L294.5,181.5M299.2,183.0L300.6,184.4L299.0,184.9L299.2,183.0M282.5,206.3L285.6,207.4L283.5,207.6L282.5,206.3M315.6,215.0L320.4,216.3L320.8,217.1L316.3,216.1L315.6,215.0M313.5,223.2L317.9,224.0L316.5,225.4L313.5,224.6L313.5,223.2M287.2,239.7L291.6,238.6L290.2,239.4L287.2,239.7M289.3,146.6L297.3,147.6L301.4,145.6L294.5,145.0L289.3,146.6M278.0,147.0L281.8,147.6L282.5,146.0L278.0,147.0M285.1,151.1L289.1,151.7L290.9,149.6L286.7,149.8L285.1,151.1M302.4,321.7L304.4,321.7L304.3,323.4L302.3,323.4L302.4,321.7M473.7,199.8L476.0,199.1L475.6,201.1L473.7,200.9L473.7,199.8M470.7,200.4L472.7,200.4L472.4,201.4L471.0,201.4L470.7,200.4" stroke="#000" stroke-width="1.15"/>
</g>
<path d="M219.5,130.3L202.1,135.6L180.7,143.7L158.2,153.8L138.4,164.9L120.5,176.6L103.6,188.9L87.8,201.6L73.5,214.7L61.2,228.1L50.1,241.6L40.9,255.2L33.4,268.9L27.7,282.6L23.7,296.3L20.4,310.0L18.0,323.6L16.6,337.3L16.0,351.0L16.6,364.7L18.0,378.4L20.4,392.0L23.7,405.7L27.7,419.4L33.4,433.1L40.9,446.8L50.1,460.4L61.2,473.9L73.5,487.3L87.8,500.4L103.6,513.1L120.5,525.4L138.4,537.1L158.2,548.2L180.7,558.3L202.1,566.4L219.5,571.6L682.5,571.6L699.9,566.4L721.3,558.3L743.8,548.2L763.6,537.1L781.5,525.4L798.4,513.1L814.2,500.4L828.5,487.3L840.8,473.9L851.9,460.4L861.1,446.8L868.6,433.1L874.3,419.4L878.3,405.7L881.6,392.0L884.0,378.4L885.4,364.7L886.0,351.0L885.4,337.3L884.0,323.6L881.6,310.0L878.3,296.3L874.3,282.6L868.6,268.9L861.1,255.2L851.9,241.6L840.8,228.1L828.5,214.7L814.2,201.6L798.4,188.9L781.5,176.6L763.6,164.9L743.8,153.8L721.3,143.7L699.9,135.6L682.5,130.3Z" fill="none" stroke="#222" stroke-width="1.3"/>
</svg>
<svg id="lg" width="900" height="696" viewBox="0 0 900 696" style="position:absolute;left:0;top:0"><rect x="103.05" y="598.85" width="39.05" height="32.4" fill="#3333cc" stroke="#555" stroke-width="0.6"/><rect x="215.90" y="598.85" width="39.10" height="32.4" fill="#8888e8" stroke="#555" stroke-width="0.6"/><rect x="325.30" y="598.85" width="42.60" height="32.4" fill="#c8c8fa" stroke="#555" stroke-width="0.6"/><rect x="438.10" y="598.85" width="42.80" height="32.4" fill="#f8f8f8" stroke="#555" stroke-width="0.6"/><rect x="551.20" y="598.85" width="42.20" height="32.4" fill="#fcc8c8" stroke="#555" stroke-width="0.6"/><rect x="663.90" y="598.85" width="42.00" height="32.4" fill="#e88888" stroke="#555" stroke-width="0.6"/><rect x="776.70" y="598.85" width="42.20" height="32.4" fill="#d03030" stroke="#555" stroke-width="0.6"/><g font-family="&quot;Liberation Sans&quot;,Arial,Helvetica,sans-serif" font-weight="bold" font-size="15.0" fill="#111"><text x="100.0" y="647.2">Record</text><text x="99.8" y="663.2">Coldest</text><text x="219.2" y="647.2">Much</text><text x="199.8" y="663.2">Cooler than</text><text x="210.6" y="679.2">Average</text><text x="312.7" y="647.2">Cooler than</text><text x="323.2" y="663.2">Average</text><text x="445.0" y="647.2">Near</text><text x="435.9" y="663.2">Average</text><text x="536.1" y="647.2">Warmer than</text><text x="548.3" y="663.2">Average</text><text x="667.0" y="647.2">Much</text><text x="649.4" y="663.2">Warmer than</text><text x="661.0" y="679.2">Average</text><text x="773.7" y="647.2">Record</text><text x="771.0" y="663.2">Warmest</text></g><text x="896.3" y="688.7" text-anchor="end" font-family="&quot;Liberation Sans&quot;,Arial,Helvetica,sans-serif" font-size="11.5" fill="#222">GHCNM v4.0.1.20201107.qfe</text></svg>
<svg id="noaa" width="60" height="60" viewBox="4 639 60 60" style="position:absolute;left:4px;top:639px">
<defs>
<path id="ringT" d="M14.6,677.5 A21.1,21.1 0 1 1 53.2,677.5"/>
<path id="ringB" d="M13.0,677.2 A22.7,22.7 0 0 0 54.8,677.2"/>
</defs>
<circle cx="33.9" cy="668.5" r="18.8" fill="#08a0e0"/>
<path d="M15.1,664.2 A18.8,18.8 0 0 1 18.8,657.4 L34,672.4 L50.4,658.0 A18.8,18.8 0 0 1 52.6,661.2 Q47.5,669.5 41,672.3 Q35,674.6 27.4,676.6 Q31.5,674.8 28,672.2 Q21.5,666.2 15.1,664.2Z" fill="#ffffff"/>
<path d="M18.9,657.3 A18.8,18.8 0 0 1 50.3,657.9 Q45.5,668 34.6,672.3 Q25.5,667.5 18.9,657.3Z" fill="#1a5fa8"/>
<text x="33.5" y="662.4" text-anchor="middle" font-family="&quot;Liberation Sans&quot;,Arial,sans-serif" font-weight="bold" font-size="6.6" fill="#ffffff" textLength="15.2" lengthAdjust="spacingAndGlyphs">NOAA</text>
<g font-family="&quot;Liberation Sans&quot;,Arial,sans-serif" font-size="2.55" fill="#3b7bbf">
<text><textPath href="#ringT" startOffset="50%" text-anchor="middle" textLength="78" lengthAdjust="spacing">NATIONAL OCEANIC AND ATMOSPHERIC ADMINISTRATION</textPath></text>
<text><textPath href="#ringB" startOffset="50%" text-anchor="middle" textLength="40" lengthAdjust="spacing">U.S. DEPARTMENT OF COMMERCE</textPath></text>
</g>
</svg>

</body></html>
